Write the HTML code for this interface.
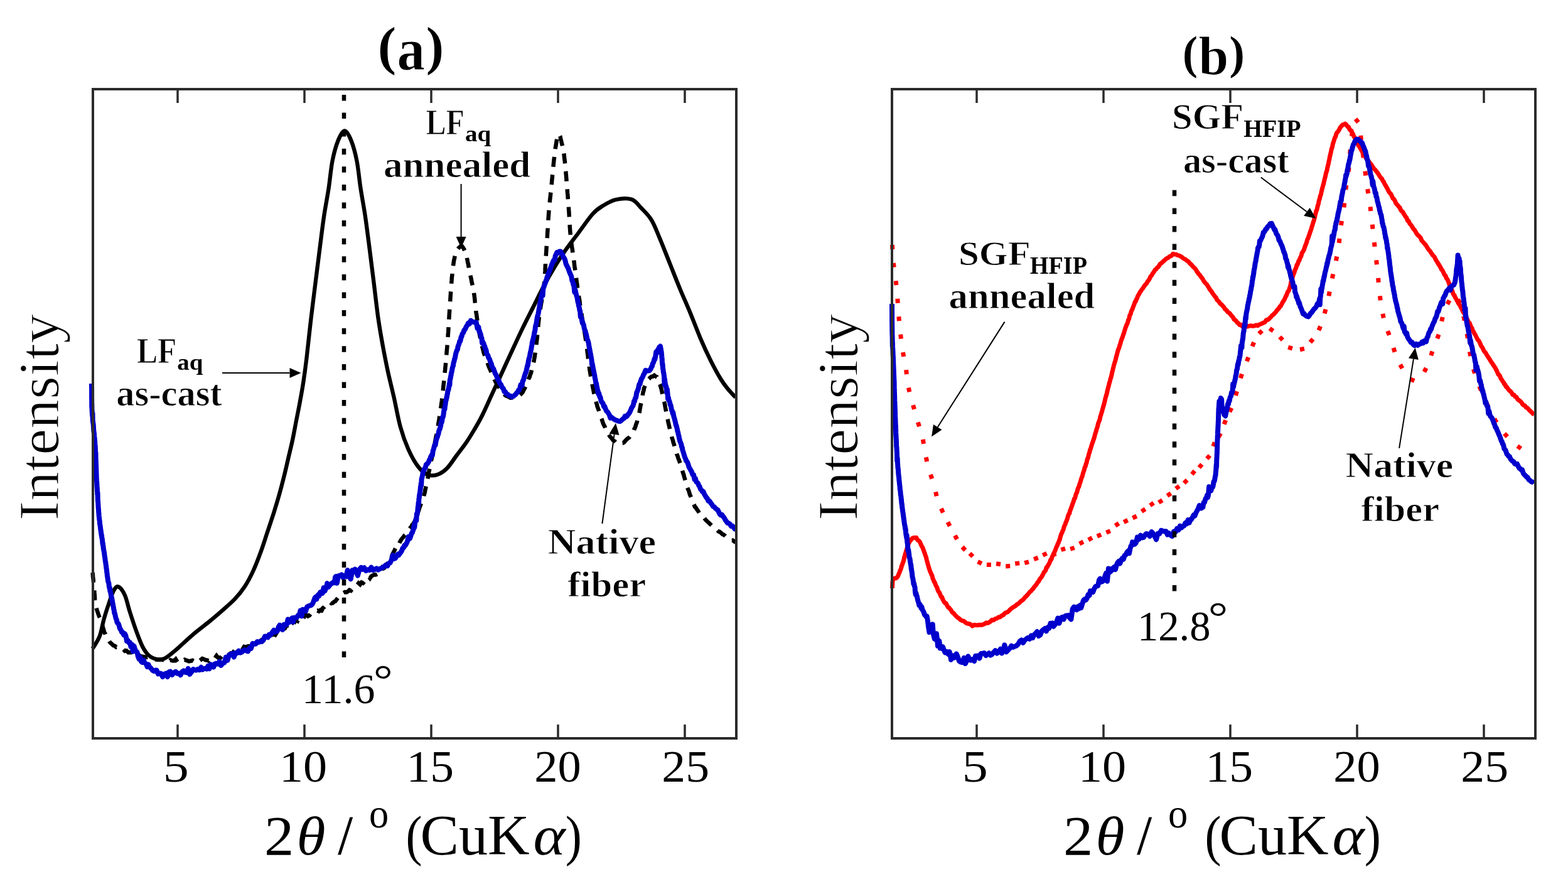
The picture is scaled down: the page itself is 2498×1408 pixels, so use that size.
<!DOCTYPE html>
<html><head><meta charset="utf-8"><title>XRD figure</title><style>
html,body{margin:0;padding:0;background:#fff;}
svg{display:block;}
.r{font-family:"Liberation Serif",serif;fill:#000;}
.b{font-family:"Liberation Serif",serif;font-weight:bold;fill:#000;}
.bt{stroke:#fff;stroke-width:0.9px;}
.thin{stroke:#fff;stroke-width:1.2px;}
.i{font-style:italic;}
</style></head>
<body><svg width="2498" height="1408" viewBox="0 0 2498 1408">
<rect x="0" y="0" width="2498" height="1408" fill="#fff"/>
<path d="M147.5 1033.0 C148.2 1031.8 150.1 1029.5 152.0 1026.0 C153.9 1022.5 156.9 1018.7 159.2 1012.0 C161.5 1005.3 163.3 994.3 165.6 986.0 C167.9 977.7 170.6 969.5 173.2 962.0 C175.8 954.5 178.4 945.6 181.0 941.0 C183.6 936.4 185.6 933.4 188.6 934.5 C191.6 935.6 195.8 941.3 198.8 947.8 C201.8 954.3 203.5 964.0 206.5 973.4 C209.5 982.8 213.3 994.6 216.7 1004.0 C220.1 1013.4 223.6 1023.0 227.0 1029.7 C230.4 1036.4 233.4 1040.6 237.2 1044.0 C241.0 1047.4 245.8 1049.2 250.0 1050.0 C254.2 1050.8 257.6 1051.0 262.7 1048.5 C267.8 1046.0 273.4 1040.9 280.6 1034.8 C287.9 1028.7 297.7 1019.0 306.2 1011.8 C314.7 1004.5 324.2 997.5 331.8 991.3 C339.4 985.0 344.9 980.4 351.9 974.3 C358.9 968.1 367.5 961.0 373.8 954.4 C380.1 947.8 384.7 942.1 389.7 934.5 C394.7 926.9 399.3 918.0 403.6 908.7 C407.9 899.4 411.9 888.8 415.5 878.9 C419.1 869.0 422.2 859.0 425.5 849.1 C428.8 839.2 432.2 829.2 435.4 819.3 C438.5 809.3 441.6 799.3 444.4 789.4 C447.2 779.5 449.8 769.5 452.3 759.6 C454.8 749.7 457.0 739.7 459.3 729.8 C461.6 719.9 464.1 710.0 466.2 700.0 C468.3 690.0 470.1 679.7 472.0 670.0 C473.9 660.3 475.6 652.3 477.5 642.0 C479.4 631.7 481.6 620.0 483.4 608.0 C485.2 596.0 486.5 586.7 488.5 570.0 C490.5 553.3 493.0 528.3 495.4 508.0 C497.8 487.7 500.3 468.3 502.8 448.4 C505.3 428.5 508.1 406.2 510.3 388.8 C512.5 371.4 514.0 358.9 516.2 344.0 C518.4 329.1 521.5 314.0 523.7 299.3 C525.9 284.6 527.1 268.6 529.6 256.0 C532.1 243.4 535.4 231.9 538.6 224.0 C541.8 216.1 545.5 208.5 549.0 208.5 C552.5 208.5 556.3 216.1 559.5 224.0 C562.7 231.9 565.9 243.4 568.4 256.0 C570.9 268.6 572.2 284.6 574.4 299.3 C576.6 314.0 579.6 329.1 581.8 344.0 C584.0 358.9 585.5 371.4 587.8 388.8 C590.0 406.2 592.8 428.5 595.3 448.4 C597.8 468.3 600.2 490.6 602.7 508.0 C605.2 525.4 607.7 538.8 610.2 552.8 C612.8 566.8 615.1 578.6 618.0 592.0 C620.9 605.4 624.4 618.7 627.7 633.4 C631.0 648.1 634.1 666.2 637.9 680.0 C641.7 693.8 646.0 705.5 650.7 716.0 C655.4 726.5 660.9 736.3 666.0 743.0 C671.1 749.7 676.3 753.8 681.4 756.0 C686.5 758.2 691.6 757.7 696.7 756.0 C701.8 754.3 706.9 751.1 712.0 746.0 C717.1 740.9 722.3 732.3 727.4 725.5 C732.5 718.7 738.0 711.8 742.7 705.0 C747.4 698.2 751.2 691.8 755.5 684.5 C759.8 677.2 763.6 670.9 768.3 661.5 C773.0 652.1 778.5 639.4 783.6 628.3 C788.7 617.2 793.9 606.2 799.0 595.1 C804.1 584.0 808.8 573.7 814.3 561.8 C819.8 549.9 826.4 535.5 832.2 523.5 C838.0 511.5 842.7 502.5 849.0 490.0 C855.3 477.5 862.3 462.5 870.1 448.5 C877.9 434.5 887.1 418.9 895.7 406.0 C904.3 393.1 913.5 381.8 921.5 371.0 C929.5 360.2 937.6 348.2 944.0 341.0 C950.4 333.8 953.8 331.8 960.0 328.0 C966.2 324.2 973.3 319.8 981.0 318.0 C988.7 316.2 999.2 315.3 1006.0 317.5 C1012.8 319.7 1016.2 325.9 1021.5 331.3 C1026.8 336.8 1032.8 342.1 1037.7 350.2 C1042.7 358.3 1046.2 368.2 1051.2 379.9 C1056.2 391.6 1062.0 406.9 1067.4 420.4 C1072.8 433.9 1078.2 447.8 1083.6 460.9 C1089.0 473.9 1094.4 485.6 1099.8 498.7 C1105.2 511.8 1110.6 526.6 1116.0 539.2 C1121.4 551.8 1126.8 563.5 1132.2 574.3 C1137.6 585.1 1143.8 596.4 1148.4 604.0 C1153.0 611.6 1156.1 615.2 1160.0 620.0 C1163.9 624.8 1170.0 630.8 1172.0 633.0" fill="none" stroke="#000" stroke-width="6.3" stroke-linejoin="round"/>
<path d="M147.5 912.0 L147.8 914.2 L148.0 917.2 L148.2 920.2 L148.5 921.8 L148.7 923.9 L148.9 926.8 L149.2 929.4 L149.4 932.1 L149.6 933.6 L149.8 935.9 L150.1 938.9 L150.3 941.7 L150.5 944.3 L150.7 946.3 L150.8 948.1 L151.0 950.9 L151.2 955.0 L151.5 956.7 L151.8 959.3 L152.2 961.9 L152.7 965.1 L153.3 967.9 L153.9 969.9 L154.8 972.8 L155.8 975.6 L156.8 978.5 L157.8 981.3 L158.9 983.6 L159.8 985.4 L160.7 989.0 L161.4 990.2 L162.2 993.5 L163.0 995.7 L163.8 999.0 L164.6 1001.3 L165.5 1004.3 L166.5 1008.1 L167.6 1009.3 L168.5 1011.7 L169.5 1012.8 L170.5 1015.2 L171.5 1017.5 L173.0 1019.7 L174.5 1022.2 L176.2 1024.1 L178.1 1025.6 L180.4 1028.0 L182.8 1028.7 L185.3 1030.9 L187.4 1030.8 L189.6 1032.1 L191.7 1032.7 L194.0 1034.9 L196.4 1033.9 L199.0 1036.9 L201.6 1036.4 L204.4 1039.2 L206.5 1039.1 L208.7 1039.2 L210.9 1038.7 L213.4 1041.6 L215.8 1042.1 L218.1 1044.4 L220.5 1042.7 L223.0 1044.8 L225.6 1045.5 L228.3 1046.0 L230.6 1046.5 L232.9 1047.0 L235.4 1046.5 L237.8 1046.4 L240.1 1047.5 L242.6 1049.2 L245.2 1050.7 L248.0 1050.3 L250.8 1050.7 L253.7 1050.6 L255.9 1050.7 L258.1 1050.2 L260.3 1051.2 L262.6 1052.6 L264.8 1050.1 L267.1 1049.7 L269.3 1053.3 L271.5 1051.2 L274.4 1052.3 L277.2 1052.4 L279.9 1049.9 L282.9 1054.7 L285.2 1053.9 L287.4 1051.9 L289.7 1052.7 L292.0 1051.9 L294.2 1050.7 L296.5 1051.7 L298.7 1052.4 L300.9 1053.3 L303.8 1052.8 L306.6 1051.9 L309.4 1053.5 L312.1 1050.7 L314.7 1052.6 L317.2 1052.9 L319.9 1051.0 L322.3 1048.9 L325.0 1049.9 L327.5 1051.2 L329.8 1051.4 L332.1 1052.5 L334.6 1048.7 L337.4 1049.5 L339.7 1049.7 L342.5 1048.0 L345.0 1044.4 L347.6 1047.7 L349.9 1049.0 L352.2 1046.6 L354.7 1043.4 L357.3 1043.2 L359.9 1043.2 L362.6 1045.2 L365.3 1041.9 L367.4 1040.5 L369.6 1041.7 L371.7 1038.8 L373.8 1040.6 L376.0 1036.5 L378.2 1036.0 L380.3 1036.7 L382.5 1036.8 L384.6 1035.0 L386.8 1033.7 L388.9 1030.1 L391.0 1030.7 L393.0 1030.0 L395.7 1029.0 L398.2 1029.4 L400.8 1027.0 L403.5 1027.3 L406.1 1025.1 L408.1 1023.6 L410.1 1023.2 L412.1 1022.6 L414.1 1022.2 L416.2 1019.5 L418.2 1018.8 L420.2 1016.3 L422.2 1019.1 L424.1 1017.9 L426.1 1014.7 L428.7 1013.0 L431.2 1010.7 L433.7 1011.2 L436.2 1009.9 L438.6 1011.2 L440.9 1007.5 L443.1 1005.0 L445.2 1001.6 L447.6 1005.4 L449.9 1002.6 L452.1 999.0 L454.2 1000.1 L456.2 996.6 L458.2 1002.1 L460.6 997.6 L463.0 995.4 L465.3 993.1 L467.5 989.2 L469.7 990.5 L471.9 987.4 L474.1 988.9 L476.3 984.1 L478.7 984.5 L480.7 986.2 L482.7 985.8 L485.4 980.9 L488.0 979.3 L490.6 981.4 L493.1 980.2 L495.6 976.8 L498.2 976.1 L500.6 974.9 L503.1 973.1 L505.6 972.5 L508.1 973.7 L510.7 971.5 L512.6 972.2 L514.5 968.3 L516.4 967.1 L518.3 964.8 L520.8 964.4 L523.2 961.3 L525.6 959.2 L527.9 961.0 L530.1 960.6 L532.5 958.2 L534.4 957.5 L536.2 954.9 L538.5 952.0 L540.6 951.4 L542.8 949.2 L544.9 946.7 L547.2 944.3 L549.6 943.0 L551.9 943.4 L554.2 942.1 L556.6 939.8 L559.1 940.8 L561.5 937.6 L564.0 936.6 L566.5 936.0 L568.9 931.8 L571.3 928.8 L573.7 930.9 L576.0 927.6 L578.4 928.8 L580.8 926.1 L583.2 925.4 L585.6 923.6 L587.5 918.7 L589.4 921.1 L591.7 917.7 L593.9 916.3 L596.2 915.3 L598.6 915.5 L600.9 914.3 L603.3 912.9 L605.6 907.8 L607.4 907.8 L609.1 904.0 L610.8 905.3 L612.5 904.4 L614.1 900.6 L615.7 899.8 L617.2 897.5 L618.7 896.0 L619.8 891.8 L620.9 889.8 L622.0 887.8 L623.1 889.1 L624.2 886.2 L625.3 882.5 L626.3 880.9 L627.4 878.8 L628.4 876.9 L629.8 873.9 L631.1 871.3 L632.4 867.9 L633.9 866.4 L635.3 867.3 L636.7 863.8 L638.1 861.3 L639.4 859.1 L641.1 857.2 L642.8 855.2 L644.4 852.8 L646.0 851.1 L647.5 849.1 L649.0 846.7 L650.4 844.8 L651.8 842.9 L653.2 841.1 L654.9 839.6 L656.6 836.1 L658.2 834.7 L659.6 832.2 L661.0 829.8 L662.2 827.5 L663.2 825.4 L664.1 822.4 L665.0 819.7 L665.8 816.8 L666.6 814.2 L667.3 812.5 L668.0 809.8 L668.9 807.1 L669.8 804.9 L670.6 802.8 L671.6 800.5 L672.5 799.1 L673.4 796.1 L674.2 793.5 L674.9 791.6 L675.7 787.8 L676.4 785.8 L676.9 783.6 L677.4 780.3 L678.0 777.9 L678.5 775.5 L679.1 773.6 L679.7 771.0 L680.2 767.1 L680.7 765.9 L681.1 763.1 L681.6 760.9 L682.0 758.6 L682.4 756.5 L682.9 753.6 L683.3 751.7 L683.8 749.3 L684.2 747.8 L684.6 746.2 L685.1 744.2 L685.5 740.8 L686.1 737.4 L686.6 735.2 L687.2 732.2 L687.8 730.6 L688.3 727.3 L688.9 724.1 L689.4 722.0 L690.0 719.1 L690.6 715.5 L691.1 713.1 L691.7 710.5 L692.3 707.9 L692.8 705.1 L693.4 702.2 L693.9 699.7 L694.4 696.6 L695.0 693.7 L695.5 692.0 L696.0 688.8 L696.5 686.0 L696.9 682.5 L697.4 680.3 L697.9 678.0 L698.3 674.5 L698.8 672.9 L699.2 669.7 L699.6 667.5 L700.0 664.7 L700.5 662.2 L700.9 660.0 L701.3 656.7 L701.7 654.8 L702.1 651.1 L702.5 648.1 L702.8 646.6 L703.1 643.6 L703.4 641.6 L703.7 639.7 L704.0 637.3 L704.3 633.6 L704.6 631.8 L704.9 630.0 L705.2 627.2 L705.5 624.1 L705.8 621.3 L706.0 618.8 L706.3 615.7 L706.6 613.3 L706.9 610.6 L707.2 607.8 L707.5 605.4 L707.8 602.0 L708.1 598.6 L708.3 597.4 L708.5 594.3 L708.7 592.4 L709.0 590.3 L709.2 588.0 L709.4 585.5 L709.6 583.6 L709.8 582.4 L710.0 579.0 L710.2 577.0 L710.5 574.6 L710.7 571.6 L711.0 568.7 L711.2 566.0 L711.5 562.0 L711.7 559.7 L711.9 557.4 L712.2 554.7 L712.4 552.8 L712.5 550.3 L712.7 547.8 L712.9 545.7 L713.0 543.4 L713.2 541.3 L713.3 539.3 L713.5 536.7 L713.7 534.3 L713.8 532.1 L714.0 530.0 L714.2 527.1 L714.4 524.1 L714.5 521.2 L714.7 518.3 L714.9 515.2 L715.1 512.6 L715.2 509.2 L715.4 506.8 L715.6 503.8 L715.7 501.7 L715.9 498.6 L716.1 496.1 L716.2 493.8 L716.4 491.6 L716.6 488.3 L716.8 485.6 L716.9 483.8 L717.1 480.6 L717.3 478.8 L717.4 476.0 L717.6 473.8 L717.7 470.8 L717.9 469.5 L718.0 466.8 L718.2 464.4 L718.4 462.7 L718.6 459.3 L718.8 457.6 L719.0 453.6 L719.2 450.6 L719.4 448.2 L719.6 446.2 L719.8 443.1 L720.0 440.9 L720.3 438.5 L720.5 435.6 L720.8 433.3 L721.1 430.4 L721.4 427.6 L721.7 426.0 L722.0 423.5 L722.3 421.0 L722.8 417.8 L723.2 414.6 L723.7 413.0 L724.2 410.4 L724.8 407.5 L725.4 406.0 L726.4 402.4 L727.5 400.3 L728.7 398.0 L730.0 396.0 L731.7 393.8 L733.8 392.4 L736.2 392.3 L737.7 394.3 L739.2 396.7 L740.2 399.2 L741.3 402.1 L742.3 405.2 L742.9 407.8 L743.5 408.5 L744.1 412.2 L744.7 414.8 L745.2 417.9 L745.6 419.6 L746.0 420.8 L746.4 423.9 L746.9 425.9 L747.3 428.8 L747.7 430.2 L748.1 432.8 L748.7 435.6 L749.3 438.4 L749.9 441.0 L750.5 443.2 L751.1 446.9 L751.7 449.9 L752.3 452.2 L752.9 454.6 L753.5 457.9 L754.0 460.8 L754.5 463.4 L754.9 465.7 L755.3 468.9 L755.6 470.5 L755.9 473.2 L756.2 475.2 L756.5 478.2 L756.7 480.8 L757.0 483.4 L757.2 486.2 L757.5 490.0 L757.8 491.5 L758.1 493.8 L758.4 497.1 L758.7 498.7 L759.1 500.4 L759.4 503.6 L759.8 505.6 L760.2 509.2 L760.6 510.7 L761.0 513.7 L761.4 516.1 L761.9 519.7 L762.2 521.4 L762.6 524.0 L762.9 526.1 L763.3 528.2 L763.7 531.1 L764.1 533.3 L764.5 535.1 L764.9 536.9 L765.3 539.0 L765.9 542.4 L766.4 546.1 L767.0 547.6 L767.7 550.1 L768.3 552.7 L768.9 554.8 L769.5 557.1 L770.2 559.6 L770.8 562.4 L771.5 564.0 L772.2 566.0 L773.0 567.7 L773.7 570.5 L774.4 572.5 L775.4 574.7 L776.5 577.5 L777.5 580.5 L778.5 583.5 L779.6 585.9 L780.6 588.2 L781.6 590.4 L782.6 593.0 L783.6 595.1 L784.6 598.3 L785.6 599.2 L786.7 601.8 L787.7 604.6 L788.7 606.1 L789.8 608.8 L790.8 610.2 L792.2 612.8 L793.5 615.0 L794.9 616.8 L796.3 619.1 L797.6 622.3 L799.0 623.5 L800.8 625.5 L802.5 627.5 L804.3 628.9 L806.1 630.4 L808.4 631.3 L810.8 632.4 L813.1 633.6 L815.6 633.4 L818.4 633.1 L821.1 633.3 L823.9 632.3 L825.9 631.7 L827.8 629.8 L829.7 627.9 L831.1 626.4 L832.5 625.1 L833.9 622.1 L835.3 619.6 L836.3 617.5 L837.2 615.5 L838.2 613.6 L839.1 611.6 L840.0 608.2 L840.9 607.3 L841.7 604.7 L842.8 601.9 L843.8 600.4 L844.7 596.7 L845.6 595.0 L846.4 592.1 L847.2 588.7 L847.9 586.6 L848.6 584.0 L849.3 580.9 L849.8 577.8 L850.4 575.8 L850.9 573.3 L851.3 570.4 L851.8 568.9 L852.2 565.4 L852.6 562.6 L853.0 559.8 L853.4 556.8 L853.8 553.9 L854.1 552.1 L854.3 549.9 L854.6 547.3 L854.9 545.2 L855.2 542.0 L855.5 540.2 L855.8 537.1 L856.0 534.9 L856.2 531.8 L856.5 529.2 L856.7 526.8 L856.9 523.5 L857.2 522.1 L857.5 518.2 L857.7 516.0 L857.9 513.5 L858.1 512.1 L858.4 509.7 L858.7 506.8 L859.0 503.9 L859.3 501.8 L859.7 499.6 L860.1 496.4 L860.5 493.4 L861.0 490.5 L861.4 487.8 L861.8 485.9 L862.1 483.4 L862.5 481.5 L862.9 480.3 L863.2 477.7 L863.6 474.3 L863.9 472.7 L864.3 470.4 L864.6 468.1 L865.1 465.7 L865.5 462.3 L865.9 459.6 L866.3 456.9 L866.6 454.4 L866.9 452.3 L867.1 449.7 L867.4 446.5 L867.6 444.6 L867.8 442.2 L868.0 440.0 L868.2 437.0 L868.3 434.5 L868.5 431.4 L868.6 428.0 L868.7 426.3 L868.8 423.5 L869.0 420.9 L869.1 417.5 L869.3 415.3 L869.4 412.2 L869.6 409.4 L869.8 407.0 L870.0 404.2 L870.2 400.9 L870.4 397.7 L870.6 394.6 L870.7 392.6 L870.9 390.4 L871.1 387.1 L871.3 383.5 L871.5 381.2 L871.7 378.9 L871.9 376.6 L872.0 373.6 L872.2 370.4 L872.4 367.5 L872.6 364.2 L872.7 361.7 L872.9 358.9 L873.1 355.9 L873.3 353.4 L873.4 350.4 L873.6 347.9 L873.8 345.5 L874.0 342.4 L874.2 339.5 L874.4 336.4 L874.7 333.1 L874.9 330.8 L875.2 328.2 L875.5 324.7 L875.7 323.4 L875.9 320.5 L876.1 318.6 L876.4 316.2 L876.7 312.9 L877.0 311.3 L877.3 307.2 L877.6 305.2 L877.9 301.9 L878.1 299.6 L878.4 296.6 L878.7 294.0 L878.9 292.2 L879.1 290.4 L879.3 287.0 L879.6 284.5 L879.9 282.2 L880.1 278.8 L880.4 276.7 L880.6 273.5 L880.9 271.4 L881.1 268.6 L881.4 266.2 L881.7 263.0 L882.0 259.5 L882.3 257.4 L882.5 254.5 L882.8 253.0 L883.1 250.4 L883.4 247.2 L883.7 243.9 L884.1 241.9 L884.4 238.8 L884.8 235.7 L885.3 233.2 L885.7 231.2 L886.2 227.7 L886.6 225.2 L887.1 222.3 L887.6 219.3 L888.1 217.6 L888.8 215.6 L890.0 213.6 L891.6 215.4 L892.5 217.3 L893.2 221.2 L894.0 223.7 L894.6 226.7 L895.3 229.4 L895.8 231.1 L896.5 233.8 L897.0 236.8 L897.5 240.0 L897.9 241.2 L898.3 244.6 L898.6 246.6 L898.9 249.4 L899.2 252.5 L899.5 254.4 L899.8 256.8 L900.1 260.2 L900.3 262.3 L900.6 264.0 L900.8 267.3 L901.0 268.9 L901.2 271.6 L901.4 273.0 L901.6 276.9 L901.9 278.6 L902.1 282.3 L902.3 283.8 L902.5 287.8 L902.7 289.9 L902.9 292.3 L903.1 295.1 L903.3 297.7 L903.5 299.6 L903.7 302.3 L903.9 305.1 L904.1 307.6 L904.3 309.1 L904.6 313.0 L904.8 316.1 L905.0 318.9 L905.2 322.1 L905.4 323.7 L905.6 327.2 L905.8 328.7 L905.9 330.8 L906.1 333.3 L906.3 336.1 L906.5 338.4 L906.6 340.9 L906.8 344.3 L907.0 346.9 L907.1 348.8 L907.3 351.9 L907.4 355.4 L907.6 358.1 L907.8 361.1 L908.0 364.1 L908.2 366.8 L908.4 370.2 L908.7 372.2 L908.9 375.0 L909.2 378.2 L909.6 381.1 L909.9 384.0 L910.3 387.1 L910.6 389.1 L911.0 392.6 L911.4 395.1 L911.8 397.3 L912.2 400.5 L912.6 404.2 L913.0 406.5 L913.4 408.8 L913.8 410.8 L914.2 414.3 L914.6 417.1 L914.9 420.1 L915.3 423.7 L915.6 425.7 L916.0 428.2 L916.3 430.4 L916.7 433.0 L917.0 436.1 L917.4 438.8 L917.8 443.0 L918.1 443.9 L918.4 446.0 L918.7 449.0 L919.1 451.0 L919.4 452.7 L919.8 456.3 L920.1 458.2 L920.5 460.6 L920.9 464.0 L921.4 466.9 L921.8 469.5 L922.1 472.1 L922.5 474.4 L922.8 475.9 L923.1 477.7 L923.5 479.8 L923.8 482.9 L924.1 485.6 L924.5 487.8 L924.8 490.1 L925.2 493.2 L925.7 495.2 L926.1 498.4 L926.5 500.0 L926.9 503.5 L927.3 506.1 L927.7 508.2 L928.1 510.3 L928.4 512.3 L928.9 515.6 L929.4 518.8 L929.8 520.8 L930.3 523.8 L930.7 525.9 L931.2 528.9 L931.6 531.0 L932.1 534.2 L932.5 536.6 L932.9 539.6 L933.4 542.1 L933.7 544.0 L934.1 547.0 L934.4 550.2 L934.8 553.2 L935.1 555.2 L935.5 558.5 L935.8 561.3 L936.2 564.0 L936.5 566.0 L936.8 569.7 L937.2 572.0 L937.5 575.7 L937.9 578.4 L938.3 581.2 L938.7 582.8 L939.1 586.8 L939.5 589.6 L939.9 591.6 L940.3 594.7 L940.7 596.6 L941.0 598.7 L941.4 600.7 L941.8 602.8 L942.2 605.2 L942.6 608.9 L943.0 609.9 L943.4 612.1 L943.9 613.9 L944.4 616.8 L945.0 619.6 L945.5 622.2 L946.1 625.5 L946.6 627.6 L947.1 630.5 L947.7 632.0 L948.2 635.1 L948.8 637.3 L949.5 639.9 L950.1 641.8 L950.9 644.3 L951.7 647.8 L952.5 649.6 L953.3 652.2 L954.1 654.3 L954.9 657.1 L955.7 659.4 L956.5 661.8 L957.2 664.0 L958.1 666.3 L959.1 668.7 L960.0 672.0 L961.0 674.7 L962.1 677.1 L963.2 678.8 L964.1 681.5 L965.1 683.5 L966.1 685.4 L967.1 687.5 L968.5 689.7 L970.0 692.4 L971.5 695.0 L973.0 696.5 L974.4 697.9 L976.0 700.2 L977.7 702.1 L979.4 702.9 L981.1 704.8 L983.4 706.8 L985.6 707.3 L988.1 707.3 L990.6 705.8 L992.4 705.6 L994.3 704.5 L996.1 702.2 L997.9 700.4 L1000.0 698.3 L1001.9 697.3 L1003.7 695.1 L1005.5 692.6 L1007.2 690.9 L1008.4 688.7 L1009.5 686.6 L1010.5 683.4 L1011.5 681.6 L1012.4 679.2 L1013.4 675.7 L1014.0 674.4 L1014.7 672.5 L1015.3 670.1 L1015.9 667.2 L1016.5 665.1 L1017.2 663.0 L1017.9 660.3 L1018.5 657.6 L1019.0 654.8 L1019.5 651.5 L1020.1 648.5 L1020.6 645.1 L1021.1 643.4 L1021.6 641.3 L1022.2 637.5 L1022.6 635.2 L1023.0 633.4 L1023.5 631.0 L1023.9 628.1 L1024.3 626.1 L1024.8 623.8 L1025.4 622.3 L1026.0 618.5 L1026.7 616.8 L1027.7 614.4 L1028.7 612.1 L1029.8 609.9 L1031.3 607.5 L1032.9 604.3 L1034.4 602.9 L1036.0 601.1 L1038.0 599.7 L1039.9 599.8 L1042.4 597.8 L1044.8 599.7 L1046.6 600.5 L1047.9 603.4 L1049.2 606.0 L1050.1 607.5 L1050.9 610.9 L1051.6 612.4 L1052.3 615.3 L1053.0 617.5 L1053.7 619.9 L1054.2 622.2 L1054.7 624.5 L1055.2 627.1 L1055.7 629.2 L1056.3 632.4 L1056.8 633.7 L1057.3 635.9 L1057.8 638.1 L1058.4 640.6 L1058.9 643.0 L1059.4 645.9 L1060.0 649.3 L1060.5 651.8 L1061.0 654.5 L1061.6 657.6 L1062.1 660.7 L1062.7 663.4 L1063.2 666.4 L1063.8 668.7 L1064.4 671.7 L1065.0 674.3 L1065.7 677.3 L1066.3 679.8 L1067.0 682.8 L1067.7 685.7 L1068.4 688.5 L1069.1 691.3 L1069.9 694.0 L1070.6 697.5 L1071.4 699.7 L1072.1 702.2 L1072.9 705.4 L1073.7 707.5 L1074.4 710.1 L1075.2 713.2 L1075.9 715.1 L1076.6 716.6 L1077.3 720.2 L1078.1 723.2 L1079.0 724.8 L1079.9 727.7 L1080.8 730.9 L1081.7 732.4 L1082.6 735.4 L1083.5 737.9 L1084.3 740.9 L1085.2 742.8 L1086.1 746.7 L1086.9 748.9 L1087.7 751.8 L1088.5 754.3 L1089.3 756.3 L1090.1 759.9 L1090.9 762.2 L1091.8 765.5 L1092.6 767.9 L1093.4 770.8 L1094.3 773.6 L1095.2 776.7 L1096.1 779.3 L1097.1 781.3 L1098.1 784.5 L1098.8 787.2 L1099.6 788.9 L1100.3 790.4 L1101.4 793.4 L1102.4 796.0 L1103.5 799.2 L1104.6 801.4 L1105.8 804.0 L1107.0 807.2 L1108.3 808.0 L1109.7 810.6 L1111.0 812.2 L1112.3 814.1 L1114.1 817.3 L1115.9 819.3 L1117.8 821.9 L1119.8 822.4 L1121.8 824.8 L1123.8 827.7 L1125.8 829.5 L1127.8 831.5 L1129.8 833.4 L1131.9 835.1 L1134.0 837.0 L1136.1 838.9 L1138.2 841.1 L1140.4 842.5 L1142.7 844.5 L1145.0 846.8 L1146.7 847.1 L1149.0 848.9 L1150.8 850.8 L1152.8 851.7 L1154.8 853.1 L1156.8 855.3 L1158.9 856.0 L1160.9 857.0 L1162.9 858.8 L1164.8 860.6 L1167.2 860.6 L1169.3 862.0 L1171.4 863.6 L1172.0 864.0" fill="none" stroke="#000" stroke-width="6.5" stroke-dasharray="16 12.5"/>
<path d="M146.0 611.0 L146.0 612.0 L146.0 616.2 L146.1 619.3 L146.1 620.9 L146.1 623.1 L146.1 625.2 L146.1 629.4 L146.1 631.9 L146.1 635.1 L146.2 636.5 L146.2 637.8 L146.2 648.0 L146.3 642.8 L146.4 645.6 L146.4 648.9 L146.5 651.2 L146.6 652.5 L146.7 654.8 L146.9 658.9 L147.1 662.3 L147.3 662.4 L147.5 658.6 L147.7 670.2 L148.0 671.2 L148.3 673.6 L148.6 675.5 L148.9 678.9 L149.1 683.4 L149.4 687.1 L149.7 688.4 L150.0 691.1 L150.3 694.8 L150.6 697.7 L150.9 700.4 L151.1 702.6 L151.2 704.2 L151.4 707.3 L151.6 709.5 L151.7 709.3 L151.9 714.8 L152.0 718.3 L152.2 721.9 L152.3 728.1 L152.4 723.3 L152.5 721.5 L152.6 731.3 L152.8 733.8 L152.9 736.9 L153.0 740.5 L153.1 741.4 L153.2 744.2 L153.3 748.6 L153.4 751.7 L153.5 753.7 L153.6 756.5 L153.7 762.1 L153.9 762.4 L154.0 764.7 L154.2 767.5 L154.3 769.6 L154.5 773.3 L154.6 776.5 L154.8 777.1 L154.9 780.1 L155.0 782.9 L155.2 784.0 L155.3 787.6 L155.4 788.2 L155.6 785.3 L155.7 792.6 L155.9 798.6 L156.1 798.4 L156.3 802.2 L156.5 805.7 L156.7 809.5 L156.9 810.2 L157.1 814.4 L157.3 817.0 L157.5 818.7 L157.7 822.1 L158.0 824.0 L158.2 826.6 L158.5 828.8 L158.7 829.6 L159.0 834.5 L159.3 835.7 L159.7 837.9 L160.0 840.4 L160.4 844.0 L160.8 846.5 L161.2 849.4 L161.6 852.7 L162.0 852.7 L162.3 856.8 L162.7 857.8 L163.1 860.9 L163.4 865.5 L163.8 865.1 L164.1 868.9 L164.5 870.1 L164.8 874.6 L165.2 875.3 L165.5 877.6 L166.0 879.7 L166.4 883.2 L166.8 886.6 L167.2 888.8 L167.6 891.7 L168.0 895.1 L168.3 895.6 L168.6 899.1 L169.0 900.7 L169.3 904.7 L169.6 905.4 L169.9 908.6 L170.2 911.2 L170.6 913.7 L170.9 917.4 L171.3 919.2 L171.7 922.3 L172.2 926.0 L172.7 927.5 L173.3 928.6 L173.8 933.7 L174.4 936.6 L174.9 936.0 L175.3 941.6 L175.8 941.9 L176.2 943.7 L176.8 947.4 L177.4 950.5 L177.9 951.4 L178.4 954.2 L179.0 957.9 L179.4 960.7 L179.7 961.3 L180.1 964.0 L180.7 966.8 L181.2 970.2 L181.8 972.3 L182.3 976.8 L183.0 977.3 L183.6 980.1 L184.3 983.6 L184.9 985.7 L185.7 987.1 L186.4 990.8 L187.4 992.6 L188.5 993.1 L189.6 995.9 L190.7 1000.4 L191.9 1002.5 L193.1 1004.3 L194.1 1007.1 L195.6 1007.3 L197.2 1011.3 L198.7 1009.2 L200.4 1012.5 L202.0 1021.0 L203.6 1020.0 L205.2 1023.5 L206.8 1023.3 L208.5 1030.0 L210.2 1026.4 L211.8 1037.7 L213.5 1028.9 L215.2 1034.8 L216.9 1037.1 L218.5 1038.9 L219.9 1045.7 L221.6 1049.8 L223.3 1046.8 L225.0 1053.7 L226.8 1055.1 L228.6 1051.3 L230.6 1055.6 L232.8 1057.6 L234.6 1062.1 L236.4 1058.3 L238.2 1062.4 L240.7 1064.6 L243.1 1067.7 L245.3 1068.9 L247.7 1067.6 L249.5 1067.4 L251.8 1073.4 L254.0 1072.4 L256.5 1072.8 L259.1 1078.0 L261.8 1073.7 L264.7 1072.5 L266.9 1078.0 L269.2 1070.3 L271.4 1069.5 L274.2 1074.9 L277.0 1071.4 L279.8 1069.8 L282.6 1072.8 L285.4 1072.4 L287.6 1075.2 L290.3 1069.9 L292.6 1068.4 L295.0 1070.9 L297.5 1071.2 L299.7 1064.9 L302.2 1073.9 L305.1 1070.3 L307.8 1065.9 L310.0 1066.9 L312.4 1067.5 L315.0 1065.9 L317.7 1067.2 L320.5 1062.8 L322.6 1066.6 L324.8 1065.0 L327.0 1064.8 L329.2 1065.6 L331.5 1060.7 L333.7 1065.1 L335.9 1058.4 L338.1 1059.8 L340.3 1062.5 L342.4 1057.3 L344.5 1056.7 L347.1 1057.6 L349.6 1053.6 L352.2 1059.9 L354.7 1056.4 L357.3 1055.6 L359.9 1046.8 L362.4 1051.7 L365.0 1043.3 L367.5 1042.1 L370.1 1041.0 L372.7 1046.5 L375.2 1039.8 L377.8 1040.3 L380.3 1036.6 L382.9 1039.7 L385.3 1038.6 L387.8 1036.1 L390.2 1035.0 L392.7 1036.6 L395.1 1037.4 L397.5 1032.1 L400.0 1032.8 L402.4 1025.0 L404.8 1025.5 L407.3 1025.7 L409.7 1022.1 L412.2 1022.9 L414.6 1021.6 L417.0 1022.1 L419.5 1019.7 L421.9 1013.6 L424.3 1013.7 L426.8 1015.2 L428.6 1011.0 L430.5 1011.8 L432.4 1009.4 L434.3 1006.3 L436.2 1003.8 L438.1 1006.9 L440.0 1004.5 L441.9 1005.1 L443.7 998.7 L445.6 995.7 L448.0 1001.6 L450.3 1003.0 L452.5 994.9 L454.7 995.3 L456.7 995.1 L458.7 986.5 L461.1 990.9 L463.3 987.2 L465.3 984.5 L467.1 990.6 L468.9 983.8 L471.0 983.9 L473.0 983.4 L474.9 980.0 L476.7 980.2 L478.6 972.5 L480.7 981.3 L482.5 970.7 L484.8 972.6 L487.0 973.3 L489.1 966.6 L491.3 965.4 L493.5 964.6 L495.3 964.1 L496.9 963.0 L498.6 960.4 L500.3 956.0 L501.7 952.1 L503.0 950.8 L504.3 954.5 L505.6 949.2 L507.0 947.2 L508.3 949.2 L510.1 943.6 L511.9 942.6 L513.8 944.7 L515.6 936.3 L517.5 941.3 L519.4 936.5 L521.3 929.2 L523.2 934.9 L525.6 931.6 L527.8 929.7 L529.8 928.0 L531.8 928.4 L533.1 926.4 L534.1 919.3 L535.0 918.3 L536.8 928.8 L539.1 917.2 L541.5 916.9 L544.3 915.4 L546.6 919.8 L548.9 917.2 L551.3 918.4 L553.7 908.2 L556.0 917.7 L558.7 922.2 L561.5 908.4 L563.5 910.7 L565.6 906.6 L567.7 910.8 L569.8 916.8 L572.6 907.1 L575.3 903.9 L578.0 906.8 L580.2 904.3 L583.1 909.1 L585.9 907.2 L588.7 908.2 L591.5 903.6 L594.3 908.2 L597.0 907.0 L599.8 905.3 L602.6 907.6 L604.7 906.1 L607.4 905.2 L610.0 903.6 L612.4 902.1 L614.9 899.8 L617.3 901.3 L619.4 897.2 L621.5 896.4 L623.6 892.1 L625.7 884.3 L627.7 890.0 L629.8 889.2 L631.8 885.8 L633.9 882.6 L635.4 884.0 L637.0 881.6 L638.5 879.7 L640.0 877.3 L641.6 873.0 L643.2 872.2 L644.4 868.6 L645.6 868.9 L646.8 867.0 L647.9 864.9 L649.3 861.4 L650.7 855.1 L652.1 858.3 L653.2 857.3 L654.6 852.8 L655.8 849.3 L656.9 848.3 L658.0 844.7 L658.7 843.3 L659.6 836.8 L660.4 839.8 L661.1 832.6 L661.8 830.4 L662.4 827.7 L662.9 826.0 L663.4 829.2 L663.8 818.8 L664.3 819.6 L664.7 819.4 L665.0 816.6 L665.4 813.4 L665.7 809.0 L666.1 806.0 L666.4 805.2 L666.6 800.8 L666.9 802.6 L667.2 799.8 L667.4 794.4 L667.7 793.6 L668.0 790.5 L668.4 787.1 L668.8 786.0 L669.2 782.7 L669.5 780.4 L669.7 779.1 L670.0 775.1 L670.3 774.6 L670.5 773.6 L670.8 770.1 L671.2 772.8 L671.6 763.2 L672.1 761.4 L672.6 759.5 L673.2 756.6 L673.8 751.9 L674.5 750.6 L675.3 749.6 L676.5 746.2 L677.7 744.5 L679.0 739.9 L680.4 739.2 L681.8 737.3 L683.2 735.0 L684.2 732.0 L685.2 731.3 L686.2 727.3 L687.1 726.1 L688.0 724.2 L688.9 725.2 L689.8 717.9 L690.7 715.6 L691.6 712.3 L692.3 709.1 L693.0 708.3 L693.6 708.9 L694.3 704.4 L695.1 700.5 L696.0 698.0 L696.8 696.0 L697.6 692.7 L698.4 691.3 L699.2 686.7 L700.0 684.2 L700.8 683.2 L701.5 680.5 L702.2 677.5 L703.0 672.4 L703.7 672.7 L704.4 668.8 L705.0 664.4 L705.7 664.4 L706.3 661.8 L706.9 657.1 L707.5 652.2 L708.0 652.6 L708.5 651.5 L709.0 646.7 L709.5 644.2 L710.0 639.5 L710.6 637.7 L711.1 635.5 L711.5 632.6 L711.9 632.9 L712.4 628.3 L712.8 627.9 L713.3 623.5 L713.8 621.5 L714.3 621.2 L714.9 617.8 L715.4 615.4 L716.0 610.8 L716.4 613.2 L716.8 605.1 L717.2 604.2 L717.7 602.3 L718.1 599.0 L718.5 598.3 L719.1 593.3 L719.7 592.5 L720.3 588.4 L720.8 585.9 L721.4 583.7 L722.0 582.6 L722.5 578.3 L723.1 576.3 L723.6 574.8 L724.1 571.8 L724.6 571.3 L725.3 567.7 L726.0 563.9 L726.7 561.5 L727.5 558.9 L728.2 557.3 L728.9 556.5 L729.7 551.5 L730.5 549.7 L731.4 547.5 L732.2 543.8 L733.0 543.8 L733.8 541.3 L734.6 536.6 L735.5 536.2 L736.3 532.5 L737.2 530.8 L738.3 529.7 L739.4 525.8 L740.5 525.1 L741.6 523.1 L742.9 520.0 L744.5 518.1 L746.0 514.6 L748.0 515.5 L749.9 510.6 L752.5 512.8 L754.8 512.8 L757.1 513.7 L758.8 513.6 L760.5 522.7 L761.6 520.1 L762.4 521.2 L763.3 527.5 L764.1 527.5 L764.8 531.2 L765.4 531.3 L766.0 533.7 L766.7 537.7 L767.4 538.5 L768.1 546.1 L768.8 543.6 L769.5 546.0 L770.4 546.8 L771.4 550.8 L772.3 551.8 L773.3 555.9 L774.3 557.0 L775.3 562.8 L776.3 564.9 L777.4 566.2 L778.4 570.0 L779.5 571.3 L780.6 574.1 L781.7 577.3 L782.7 579.2 L783.8 584.2 L784.6 585.0 L785.5 586.8 L786.3 587.6 L787.1 590.2 L788.0 592.2 L788.8 595.0 L790.0 596.4 L791.1 599.0 L792.2 602.2 L793.4 604.9 L794.5 605.4 L795.7 609.5 L796.9 611.4 L798.1 612.6 L799.3 615.7 L800.5 617.7 L801.7 618.5 L803.3 623.4 L804.8 623.6 L806.4 627.3 L808.2 627.6 L810.5 630.0 L812.6 630.4 L815.4 632.1 L818.1 631.1 L820.3 629.1 L821.8 627.9 L823.4 625.4 L824.9 624.3 L826.1 621.3 L827.3 621.3 L828.4 617.9 L829.5 613.0 L830.6 613.1 L831.6 614.4 L832.6 607.2 L833.5 606.3 L834.4 603.5 L835.3 600.0 L836.2 597.3 L837.0 594.4 L837.7 593.1 L838.3 592.0 L838.9 588.3 L839.6 585.4 L840.2 582.6 L840.8 582.1 L841.3 578.6 L841.9 575.2 L842.5 572.0 L843.1 570.2 L843.7 568.0 L844.3 565.4 L844.7 562.3 L845.1 560.9 L845.6 559.2 L846.0 556.8 L846.4 555.6 L846.8 552.2 L847.4 549.5 L848.0 544.6 L848.5 543.8 L849.1 540.6 L849.7 538.6 L850.2 536.0 L850.8 533.9 L851.4 529.3 L851.9 528.5 L852.5 525.0 L853.0 520.2 L853.6 517.8 L854.1 517.7 L854.7 513.3 L855.2 509.7 L855.7 506.4 L856.3 503.8 L856.8 502.5 L857.4 500.1 L857.9 497.6 L858.3 495.1 L858.8 491.8 L859.3 489.6 L859.8 485.0 L860.3 483.6 L860.8 479.7 L861.4 478.6 L862.0 474.1 L862.6 472.5 L863.2 468.4 L863.9 466.7 L864.6 470.7 L865.4 459.5 L866.2 457.7 L867.1 455.3 L867.7 452.9 L868.4 451.9 L869.1 449.6 L869.8 446.8 L870.5 446.7 L871.4 441.6 L872.4 440.6 L873.3 435.6 L874.3 435.2 L875.2 431.1 L876.2 429.8 L877.1 426.6 L877.9 424.8 L878.9 421.9 L879.9 419.9 L880.8 417.4 L881.8 415.3 L882.7 413.7 L883.7 414.6 L884.7 407.8 L885.9 405.4 L887.2 402.1 L888.8 403.0 L891.1 400.4 L893.3 400.4 L894.8 404.4 L896.2 405.2 L897.3 409.9 L898.4 410.5 L899.5 412.2 L900.5 415.2 L901.6 420.1 L902.7 422.6 L903.6 424.1 L904.5 426.3 L905.4 427.6 L906.4 431.0 L907.3 433.5 L908.2 435.5 L909.1 437.6 L910.0 439.3 L910.7 442.8 L911.4 447.0 L912.0 447.7 L912.7 449.8 L913.3 453.0 L914.0 452.4 L914.6 457.6 L915.3 465.0 L915.9 460.6 L916.6 462.6 L917.3 465.9 L918.0 469.3 L918.6 471.6 L919.2 472.7 L919.9 476.3 L920.5 480.3 L921.0 482.4 L921.5 483.3 L921.9 487.4 L922.4 487.8 L923.0 491.1 L923.6 494.8 L924.2 495.2 L924.8 504.7 L925.4 505.7 L926.0 505.5 L926.6 506.7 L927.2 511.1 L927.8 514.1 L928.3 513.4 L929.1 516.3 L929.9 517.9 L930.7 522.6 L931.4 525.1 L932.2 526.5 L933.0 529.5 L933.7 532.0 L934.5 535.3 L935.2 538.8 L935.9 541.1 L936.5 542.3 L937.0 544.2 L937.6 546.1 L938.1 549.3 L938.7 553.2 L939.2 555.5 L939.8 558.3 L940.2 561.4 L940.6 562.9 L941.0 564.5 L941.4 567.1 L941.8 568.8 L942.2 571.5 L942.6 574.2 L943.0 580.5 L943.5 578.7 L944.0 581.5 L944.5 584.7 L945.0 587.0 L945.5 589.4 L946.0 591.6 L946.5 594.8 L947.0 596.8 L947.4 598.4 L947.9 602.8 L948.3 603.5 L948.9 607.3 L949.4 610.7 L950.0 610.5 L950.6 615.1 L951.1 616.6 L951.8 620.6 L952.5 622.3 L953.2 627.1 L953.9 625.9 L954.6 627.9 L955.4 632.3 L956.4 632.6 L957.5 638.0 L958.6 640.7 L959.7 641.0 L960.8 643.1 L962.0 647.3 L963.2 647.0 L964.3 650.2 L965.6 653.5 L966.8 655.3 L968.1 656.4 L969.4 658.5 L970.7 660.6 L972.4 665.8 L974.1 664.7 L975.6 665.9 L977.5 667.1 L979.5 668.5 L982.1 669.6 L984.7 670.6 L987.3 671.2 L989.6 669.9 L992.0 667.4 L993.8 666.6 L995.6 663.0 L997.4 664.0 L999.0 662.7 L1000.6 659.8 L1002.0 658.9 L1003.5 656.2 L1004.9 652.9 L1006.2 649.7 L1007.2 648.1 L1008.2 646.8 L1009.2 643.8 L1010.1 639.1 L1011.0 639.1 L1011.8 635.0 L1012.4 633.9 L1013.1 633.0 L1013.7 629.5 L1014.3 625.1 L1014.9 624.5 L1015.5 622.9 L1016.3 620.7 L1017.2 617.8 L1018.0 613.4 L1018.8 611.4 L1019.6 611.6 L1020.4 607.9 L1021.2 605.6 L1022.1 603.0 L1023.1 601.9 L1024.3 599.3 L1025.4 596.5 L1026.6 594.9 L1028.4 589.8 L1030.4 590.8 L1032.6 590.6 L1034.8 590.1 L1036.5 587.9 L1038.0 584.2 L1039.0 583.3 L1039.8 579.4 L1040.7 577.9 L1041.6 575.7 L1042.5 571.8 L1043.4 571.9 L1044.3 567.2 L1045.2 560.9 L1046.1 562.7 L1047.0 559.7 L1047.9 557.0 L1048.9 557.0 L1050.1 553.1 L1052.0 551.6 L1052.8 555.8 L1053.3 558.7 L1053.7 560.8 L1053.9 564.2 L1054.2 566.2 L1054.4 569.1 L1054.7 570.9 L1054.9 575.3 L1055.1 577.4 L1055.3 580.7 L1055.6 580.1 L1055.8 583.1 L1056.1 587.8 L1056.4 587.9 L1056.8 592.2 L1057.3 594.3 L1057.7 596.4 L1058.1 599.9 L1058.5 612.4 L1059.0 604.1 L1059.4 607.7 L1059.9 611.3 L1060.4 615.4 L1060.9 614.5 L1061.4 616.6 L1061.8 618.4 L1062.3 625.4 L1062.9 620.2 L1063.5 626.1 L1064.1 635.3 L1064.8 633.0 L1065.5 637.1 L1066.2 638.5 L1066.9 640.5 L1067.7 644.4 L1068.5 645.4 L1069.3 649.3 L1070.1 653.5 L1070.9 654.6 L1071.7 658.5 L1072.3 656.8 L1073.0 661.3 L1073.8 664.9 L1074.5 666.6 L1075.3 670.2 L1076.1 673.0 L1076.8 677.2 L1077.5 677.7 L1078.2 680.8 L1078.8 682.9 L1079.3 686.4 L1079.8 687.4 L1080.4 690.1 L1080.9 692.4 L1081.5 694.4 L1082.0 698.0 L1082.6 699.7 L1083.1 702.6 L1083.8 703.8 L1084.5 705.7 L1085.3 707.4 L1086.0 712.0 L1086.7 712.3 L1087.4 716.7 L1088.1 718.7 L1089.0 721.7 L1089.9 724.6 L1090.7 727.3 L1091.5 729.5 L1092.3 731.1 L1093.1 733.9 L1094.2 734.7 L1095.3 736.8 L1096.4 739.6 L1097.5 743.6 L1098.6 745.6 L1099.7 747.7 L1100.8 749.5 L1102.0 751.6 L1103.0 754.7 L1104.1 756.7 L1105.1 756.5 L1106.5 763.5 L1107.8 761.9 L1109.2 767.3 L1110.6 768.4 L1111.9 769.8 L1113.3 773.3 L1114.7 775.2 L1116.2 779.5 L1117.7 780.8 L1119.1 783.3 L1120.6 783.0 L1122.1 787.3 L1123.6 789.5 L1125.2 792.3 L1126.8 793.9 L1128.5 798.0 L1130.4 798.1 L1132.2 800.9 L1134.1 803.4 L1136.0 806.5 L1137.9 807.4 L1139.8 809.7 L1141.7 811.2 L1143.6 812.3 L1145.5 816.5 L1146.9 819.1 L1148.3 820.5 L1150.1 819.9 L1152.0 822.5 L1153.8 824.9 L1155.7 828.4 L1157.5 830.7 L1159.2 833.1 L1161.1 833.4 L1162.9 834.7 L1164.8 838.1 L1166.6 837.5 L1168.8 839.7 L1170.6 842.6 L1172.0 843.0" fill="none" stroke="#0000cc" stroke-width="8" stroke-linejoin="round"/>
<line x1="548" y1="150.9" x2="548" y2="1048" stroke="#000" stroke-width="6.5" stroke-dasharray="9.5 19.1"/>
<path d="M1421.5 937.0 L1421.6 934.2 L1421.7 932.8 L1421.8 928.8 L1422.0 925.6 L1422.4 924.5 L1423.0 922.4 L1425.3 921.0 L1427.5 921.1 L1429.9 918.7 L1431.1 916.1 L1432.0 913.8 L1433.0 911.6 L1434.0 908.7 L1434.8 907.3 L1435.6 904.9 L1436.4 901.4 L1437.1 900.3 L1437.9 897.6 L1438.6 896.1 L1439.4 893.7 L1440.2 890.4 L1440.8 886.8 L1441.4 886.0 L1442.0 882.5 L1442.6 882.1 L1443.3 878.5 L1443.9 876.7 L1444.7 875.1 L1445.5 870.4 L1446.3 869.2 L1447.3 866.0 L1448.6 863.7 L1449.9 861.3 L1451.2 860.2 L1452.9 857.7 L1455.1 856.6 L1457.3 856.5 L1459.8 856.3 L1461.6 859.9 L1463.4 861.0 L1464.9 862.3 L1466.2 864.9 L1467.5 868.1 L1468.7 870.6 L1469.7 871.6 L1470.6 874.3 L1471.6 876.7 L1472.5 879.6 L1473.3 881.1 L1474.1 884.3 L1474.8 885.7 L1475.6 888.5 L1476.4 892.1 L1477.0 894.3 L1477.6 896.0 L1478.2 898.6 L1478.8 900.5 L1479.4 903.0 L1480.1 905.3 L1481.0 907.7 L1481.9 910.5 L1482.9 912.5 L1483.9 915.1 L1484.9 916.7 L1485.9 921.0 L1487.0 923.5 L1488.1 926.5 L1489.2 927.6 L1490.4 931.1 L1491.5 933.6 L1492.7 935.4 L1494.0 939.7 L1495.3 942.5 L1496.6 943.6 L1497.9 947.2 L1499.3 950.5 L1500.7 951.2 L1502.1 955.0 L1503.6 957.8 L1505.1 960.3 L1506.6 960.5 L1507.9 962.5 L1509.2 965.1 L1510.6 967.5 L1511.9 967.8 L1513.3 969.8 L1515.2 971.8 L1517.1 975.3 L1519.0 976.3 L1520.9 978.9 L1522.8 980.8 L1524.9 983.0 L1526.6 984.1 L1528.4 985.5 L1530.2 987.3 L1532.5 988.5 L1534.8 988.9 L1537.2 990.7 L1539.5 992.7 L1542.1 993.3 L1544.3 993.7 L1546.4 994.7 L1549.2 997.1 L1552.1 995.3 L1555.0 995.8 L1557.8 995.8 L1560.5 995.1 L1563.1 995.6 L1565.8 994.8 L1568.5 993.7 L1571.2 991.8 L1573.3 992.6 L1575.4 991.5 L1577.8 990.0 L1580.4 987.3 L1582.9 987.7 L1585.6 985.6 L1587.5 985.2 L1589.5 984.0 L1591.5 982.7 L1593.4 982.7 L1595.9 980.6 L1598.2 979.8 L1600.6 976.9 L1602.9 975.7 L1605.2 975.0 L1607.6 972.7 L1609.9 970.2 L1611.7 968.8 L1613.4 967.6 L1615.7 966.2 L1617.9 964.9 L1620.1 962.8 L1622.3 961.4 L1624.5 959.7 L1626.6 957.4 L1628.8 956.2 L1630.9 954.0 L1633.0 951.4 L1635.0 949.5 L1637.0 947.5 L1638.9 945.0 L1640.8 942.6 L1642.7 941.3 L1644.5 938.8 L1646.3 937.3 L1648.1 934.3 L1649.8 932.5 L1651.5 930.3 L1653.1 927.6 L1654.7 925.8 L1656.2 922.9 L1657.7 920.8 L1659.2 919.2 L1660.7 916.5 L1662.1 913.8 L1663.6 910.8 L1664.7 909.8 L1665.8 908.6 L1667.1 903.7 L1668.4 903.3 L1669.7 900.3 L1671.0 898.4 L1672.3 895.8 L1673.6 891.9 L1674.9 891.0 L1676.1 887.0 L1677.3 884.6 L1678.6 882.5 L1679.7 879.5 L1680.9 877.2 L1682.0 874.1 L1683.1 871.1 L1684.2 869.2 L1685.2 865.9 L1686.2 864.8 L1687.2 861.5 L1688.2 859.6 L1689.2 855.3 L1690.3 852.0 L1691.0 849.9 L1692.0 848.4 L1693.0 845.3 L1694.0 843.7 L1694.9 839.9 L1695.9 837.3 L1696.9 835.6 L1697.8 832.5 L1698.8 830.4 L1699.8 827.8 L1700.8 824.8 L1701.7 821.2 L1702.7 818.7 L1703.7 818.0 L1704.6 813.8 L1705.6 811.5 L1706.6 808.8 L1707.6 806.1 L1708.5 803.4 L1709.5 800.5 L1710.5 797.9 L1711.4 794.3 L1712.4 793.9 L1713.4 790.1 L1714.3 786.6 L1715.2 785.2 L1716.1 782.7 L1717.0 778.8 L1717.9 776.7 L1718.8 775.3 L1719.6 772.0 L1720.5 769.3 L1721.4 766.9 L1722.3 763.5 L1723.2 760.7 L1724.1 759.1 L1725.0 755.2 L1725.8 752.6 L1726.6 750.4 L1727.5 747.4 L1728.3 744.0 L1729.1 743.2 L1730.0 739.3 L1730.8 737.8 L1731.6 734.3 L1732.4 730.7 L1733.3 729.4 L1734.1 725.7 L1734.9 722.5 L1735.8 720.3 L1736.6 716.3 L1737.4 715.2 L1738.3 711.8 L1739.1 709.3 L1740.0 706.2 L1740.8 704.4 L1741.7 701.4 L1742.6 699.1 L1743.4 696.7 L1744.2 693.1 L1745.1 690.3 L1745.9 687.8 L1746.7 684.6 L1747.5 682.2 L1748.2 680.5 L1748.9 677.3 L1749.7 673.9 L1750.5 672.2 L1751.3 670.1 L1752.0 668.4 L1752.7 664.6 L1753.5 661.9 L1754.2 659.9 L1755.0 657.0 L1755.7 655.1 L1756.3 652.2 L1757.0 650.2 L1757.6 647.4 L1758.3 645.9 L1759.0 642.9 L1759.7 640.5 L1760.4 637.2 L1761.1 633.8 L1761.8 631.8 L1762.4 629.7 L1762.9 628.2 L1763.5 626.0 L1764.0 623.2 L1764.6 621.0 L1765.2 618.2 L1765.7 616.6 L1766.3 614.6 L1766.8 612.1 L1767.6 608.9 L1768.3 607.5 L1769.0 603.5 L1769.7 602.3 L1770.4 599.3 L1771.1 596.8 L1771.8 592.6 L1772.5 590.8 L1773.2 586.9 L1773.9 584.9 L1774.6 581.5 L1775.3 579.3 L1776.0 576.8 L1776.7 575.0 L1777.4 572.3 L1778.2 568.7 L1779.0 566.1 L1779.8 562.9 L1780.6 560.0 L1781.4 557.0 L1782.2 555.3 L1783.1 553.1 L1783.9 549.6 L1784.8 547.6 L1785.7 543.9 L1786.6 541.3 L1787.5 538.8 L1788.4 536.9 L1789.4 533.3 L1790.3 531.4 L1791.2 528.0 L1792.2 524.9 L1793.1 521.7 L1794.0 520.0 L1794.9 517.1 L1795.9 515.7 L1796.8 512.7 L1797.6 509.3 L1798.3 508.7 L1799.0 506.4 L1799.8 502.2 L1800.5 501.3 L1801.2 500.0 L1802.2 496.1 L1803.2 493.9 L1804.2 492.0 L1805.1 489.2 L1806.1 486.7 L1807.1 484.2 L1808.2 480.8 L1809.2 480.4 L1810.3 476.9 L1811.3 475.6 L1812.6 471.6 L1813.7 470.0 L1814.9 467.9 L1816.0 465.6 L1817.2 464.0 L1818.8 461.6 L1820.4 459.6 L1822.1 457.0 L1823.7 454.6 L1825.3 452.7 L1826.8 451.2 L1828.4 448.2 L1829.9 446.5 L1831.5 443.8 L1832.8 440.6 L1834.0 439.4 L1835.3 437.5 L1836.9 434.8 L1838.4 432.9 L1840.0 430.0 L1841.6 429.0 L1843.3 426.4 L1845.0 425.4 L1846.8 422.8 L1848.4 420.2 L1850.2 419.2 L1851.9 417.7 L1853.8 415.7 L1855.6 414.4 L1857.4 412.5 L1859.1 411.4 L1861.3 410.3 L1863.3 408.5 L1866.2 407.5 L1868.6 404.3 L1871.3 405.0 L1873.9 405.3 L1876.4 406.7 L1878.7 407.2 L1881.0 408.3 L1883.0 409.6 L1885.1 411.5 L1887.4 412.7 L1889.2 413.6 L1891.0 415.3 L1892.8 416.3 L1894.6 418.2 L1896.3 420.3 L1898.1 421.6 L1900.0 424.0 L1901.8 425.8 L1903.6 427.5 L1905.5 429.7 L1906.9 432.7 L1908.2 434.1 L1909.6 436.4 L1911.0 437.6 L1912.7 439.9 L1914.4 442.3 L1916.0 444.2 L1917.6 447.5 L1919.3 449.6 L1920.9 451.5 L1922.6 453.0 L1924.2 455.7 L1925.9 458.4 L1927.5 461.3 L1929.1 462.9 L1930.7 465.3 L1932.3 467.9 L1933.9 470.0 L1935.5 472.2 L1937.2 473.9 L1938.8 477.6 L1940.5 479.1 L1942.2 481.1 L1944.0 483.6 L1945.9 485.0 L1947.8 487.0 L1949.7 489.1 L1951.7 492.6 L1953.7 493.7 L1955.7 496.7 L1957.6 497.9 L1959.5 499.5 L1961.3 502.1 L1962.9 503.8 L1964.5 505.6 L1966.0 508.8 L1967.5 509.6 L1969.0 510.8 L1971.0 513.8 L1972.9 515.0 L1974.9 517.5 L1976.9 517.2 L1979.0 519.7 L1981.2 519.0 L1984.0 519.6 L1986.8 520.2 L1989.7 519.3 L1992.5 518.7 L1995.3 519.3 L1998.2 519.1 L2001.0 517.8 L2003.8 518.7 L2006.0 517.0 L2008.1 516.2 L2010.4 515.3 L2012.7 514.1 L2015.1 513.2 L2017.4 509.6 L2019.2 509.6 L2020.9 508.7 L2022.6 506.8 L2024.8 504.7 L2026.7 502.3 L2028.6 501.2 L2030.6 498.8 L2032.5 497.1 L2034.4 494.2 L2036.3 492.4 L2037.7 490.7 L2039.0 488.1 L2040.5 487.3 L2042.0 484.3 L2043.5 481.2 L2044.9 479.3 L2046.3 476.9 L2047.3 474.7 L2048.3 472.3 L2049.3 470.8 L2050.5 467.5 L2051.6 464.7 L2052.7 463.7 L2053.7 461.3 L2054.5 458.7 L2055.4 456.2 L2056.2 452.9 L2056.9 448.8 L2057.7 446.2 L2058.5 444.6 L2059.3 441.0 L2060.2 438.4 L2061.1 435.9 L2062.1 433.6 L2063.0 430.0 L2064.0 428.3 L2065.0 426.0 L2066.0 421.9 L2066.9 421.7 L2067.8 419.2 L2068.8 415.8 L2069.8 415.0 L2070.9 411.8 L2072.0 409.3 L2073.1 407.4 L2074.3 402.4 L2075.4 401.3 L2076.6 399.2 L2077.5 397.4 L2078.4 394.5 L2079.2 392.3 L2080.1 389.8 L2081.1 387.4 L2082.0 384.6 L2082.9 381.2 L2083.8 379.8 L2084.7 377.0 L2085.6 374.6 L2086.4 372.1 L2087.3 369.4 L2088.2 367.0 L2089.1 364.2 L2089.8 361.8 L2090.5 359.5 L2091.1 357.6 L2091.8 355.2 L2092.5 353.0 L2093.2 351.5 L2093.9 348.3 L2094.7 345.3 L2095.4 341.6 L2096.2 339.2 L2096.9 335.5 L2097.7 335.0 L2098.2 333.0 L2098.8 329.9 L2099.4 327.7 L2099.9 326.2 L2100.5 324.1 L2101.2 319.9 L2101.9 318.0 L2102.7 315.2 L2103.3 311.9 L2104.0 310.9 L2104.7 308.0 L2105.4 304.4 L2106.0 302.5 L2106.5 300.0 L2107.3 297.3 L2108.0 294.6 L2108.6 292.7 L2109.3 289.5 L2110.0 286.6 L2110.6 283.8 L2111.3 281.8 L2111.9 278.5 L2112.6 275.4 L2113.2 273.6 L2113.9 271.9 L2114.6 267.7 L2115.2 265.5 L2115.8 262.5 L2116.3 261.2 L2116.8 258.5 L2117.3 255.2 L2117.7 254.8 L2118.2 251.5 L2118.7 248.8 L2119.2 246.8 L2119.7 244.9 L2120.1 243.4 L2120.8 239.8 L2121.4 236.7 L2122.1 235.4 L2122.7 233.0 L2123.3 229.5 L2124.1 227.2 L2124.9 224.7 L2125.8 221.8 L2126.6 219.1 L2127.5 218.1 L2128.6 214.2 L2129.7 211.3 L2130.8 210.5 L2132.0 208.9 L2133.7 205.9 L2135.3 202.7 L2137.0 201.0 L2138.6 199.1 L2140.8 198.3 L2143.0 197.0 L2145.0 198.8 L2147.0 202.0 L2148.5 202.3 L2150.2 206.3 L2151.9 207.9 L2153.1 208.5 L2154.3 212.4 L2155.5 213.6 L2156.8 217.0 L2158.1 219.1 L2159.1 221.0 L2160.1 223.2 L2161.2 224.5 L2162.2 226.9 L2163.3 229.1 L2164.4 232.4 L2165.8 233.3 L2167.1 236.2 L2168.5 238.6 L2170.0 241.5 L2171.4 243.0 L2172.9 245.6 L2174.4 247.4 L2176.0 251.8 L2177.6 251.8 L2179.2 255.3 L2180.8 257.2 L2182.4 259.8 L2184.1 261.5 L2185.7 263.8 L2187.5 266.8 L2189.2 269.0 L2191.0 270.6 L2192.7 272.8 L2194.5 275.3 L2195.8 276.9 L2197.1 279.1 L2198.4 281.1 L2199.9 283.3 L2201.4 284.3 L2202.8 287.6 L2204.3 289.5 L2205.8 292.9 L2207.2 295.0 L2208.7 297.8 L2210.2 300.2 L2211.6 303.3 L2213.1 306.1 L2214.6 307.8 L2216.0 309.2 L2217.5 312.5 L2219.1 316.2 L2220.6 317.0 L2222.2 319.7 L2223.8 323.6 L2225.3 325.4 L2226.9 327.1 L2228.5 329.2 L2230.0 330.6 L2231.6 334.6 L2233.2 336.5 L2234.7 337.3 L2236.3 340.5 L2237.9 342.9 L2239.4 345.3 L2241.0 347.3 L2242.5 351.6 L2244.1 352.0 L2245.7 355.8 L2247.2 357.7 L2248.8 359.6 L2250.3 362.3 L2251.9 364.7 L2253.4 366.1 L2255.0 368.6 L2256.3 371.3 L2258.0 373.5 L2259.7 375.5 L2261.4 376.7 L2263.1 378.7 L2264.8 382.8 L2266.5 384.9 L2268.2 386.6 L2270.0 388.8 L2271.7 390.7 L2273.4 393.5 L2275.0 396.2 L2276.6 398.3 L2278.2 399.8 L2279.9 402.8 L2281.1 404.1 L2282.3 406.2 L2283.5 407.4 L2285.2 409.1 L2286.7 412.3 L2288.3 415.4 L2289.7 417.1 L2291.2 420.1 L2292.5 421.6 L2293.8 424.1 L2294.9 425.6 L2296.4 429.1 L2297.8 430.4 L2299.1 432.9 L2300.4 435.8 L2301.7 438.4 L2303.0 439.2 L2304.3 443.3 L2305.6 444.4 L2306.7 446.8 L2307.8 449.4 L2309.0 453.1 L2310.1 454.5 L2311.2 458.2 L2312.3 460.8 L2313.2 462.4 L2314.1 464.9 L2315.0 467.8 L2315.9 469.6 L2316.9 470.1 L2318.1 473.3 L2319.4 475.4 L2320.8 478.0 L2322.1 480.3 L2323.5 483.4 L2324.9 485.0 L2326.4 487.3 L2327.8 490.5 L2329.2 493.2 L2330.7 496.3 L2332.1 498.5 L2333.4 500.1 L2334.7 502.5 L2336.0 505.8 L2337.3 508.2 L2338.6 511.0 L2339.8 513.9 L2341.1 514.3 L2342.4 517.8 L2343.7 521.1 L2345.0 522.6 L2346.3 526.7 L2347.5 528.1 L2348.8 531.0 L2350.2 533.1 L2351.6 536.0 L2352.9 538.5 L2354.2 541.1 L2355.6 542.4 L2356.9 544.5 L2358.3 548.1 L2359.7 551.1 L2361.1 552.9 L2362.5 555.4 L2364.0 558.7 L2365.5 560.8 L2367.0 562.3 L2368.5 565.3 L2370.1 567.5 L2371.7 570.1 L2373.3 572.4 L2374.8 575.2 L2376.4 577.3 L2378.0 579.8 L2379.5 582.0 L2380.9 584.2 L2382.4 586.3 L2383.5 588.8 L2384.6 590.8 L2385.7 593.4 L2387.1 596.5 L2388.5 597.2 L2389.8 599.7 L2391.1 603.2 L2392.5 604.7 L2393.8 607.3 L2395.2 608.7 L2396.6 612.0 L2398.0 612.7 L2399.3 616.0 L2400.7 616.6 L2402.6 619.5 L2404.4 622.1 L2406.3 623.0 L2408.2 625.5 L2410.0 628.8 L2411.9 628.7 L2413.9 631.7 L2415.8 632.5 L2417.8 635.9 L2419.8 637.5 L2421.7 638.8 L2423.7 640.7 L2425.8 644.1 L2427.8 645.7 L2429.4 646.1 L2431.2 648.9 L2433.0 649.5 L2434.8 651.3 L2436.6 653.6 L2438.3 654.9 L2440.5 657.2 L2442.3 659.1 L2444.0 659.6 L2444.0 660.0" fill="none" stroke="#ff0000" stroke-width="7" stroke-linejoin="round"/>
<path d="M1421.5 390.2L1421.8 397.2M1423.3 418.9L1424.3 425.8M1427.2 447.3L1427.9 454.2M1429.8 475.8L1430.3 482.8M1431.9 504.2L1432.5 511.2M1434.7 532.7L1435.5 539.7M1438.5 561.1L1439.7 568.0M1443.6 589.1L1444.4 596.1M1447.4 617.4L1448.9 624.2M1454.6 645.2L1456.5 651.9M1462.4 672.5L1464.5 679.2M1470.3 699.9L1471.5 706.8M1475.2 728.3L1476.8 735.1M1482.5 755.9L1484.8 762.5M1490.6 783.4L1492.1 790.2M1499.4 810.1L1502.4 816.4M1509.9 831.7L1513.2 837.9M1521.4 852.8L1524.7 859.0M1533.1 871.2L1537.8 876.4M1544.9 881.4L1549.8 886.4M1557.7 894.6L1564.0 897.6M1571.9 899.4L1578.9 899.6M1587.1 897.8L1594.0 898.8M1602.2 901.9L1609.2 901.6M1617.2 897.8L1624.2 896.9M1632.2 896.6L1639.0 894.8M1647.1 890.8L1653.7 888.4M1661.3 884.4L1667.6 881.4M1675.7 883.8L1682.5 881.9M1690.4 875.8L1697.0 873.6M1705.1 874.5L1711.7 872.5M1719.6 866.1L1725.9 862.9M1733.8 859.8L1740.0 856.5M1747.8 854.1L1754.3 851.4M1762.4 848.3L1768.8 845.6M1776.7 837.3L1782.5 833.5M1790.3 831.6L1796.6 828.5M1804.5 825.1L1810.8 822.0M1818.7 814.6L1824.6 810.8M1832.2 805.0L1837.9 801.0M1845.9 800.4L1851.8 796.7M1859.5 789.6L1865.4 785.8M1873.2 778.3L1878.8 774.2M1886.3 769.5L1891.3 764.6M1898.8 755.4L1903.3 750.1M1910.3 744.8L1914.8 739.5M1922.7 730.7L1927.4 725.5M1932.8 711.1L1935.3 704.5M1941.3 696.3L1944.5 690.1M1950.1 675.7L1952.7 669.2M1958.9 656.0L1962.0 649.8M1968.5 629.9L1970.5 623.2M1976.3 602.3L1978.5 595.7M1986.3 575.6L1988.8 569.1M1995.0 551.6L1997.7 545.1M2005.6 531.6L2010.6 526.8M2022.6 523.2L2028.4 527.1M2038.7 536.5L2043.4 541.6M2052.2 553.0L2058.9 555.2M2071.0 556.7L2077.9 555.4M2087.3 545.3L2091.8 539.9M2100.9 526.2L2103.6 519.7M2110.2 499.4L2112.0 492.6M2116.9 471.3L2118.2 464.4M2122.3 443.4L2123.8 436.6M2128.4 415.4L2129.7 408.5M2133.2 387.0L2134.0 380.0M2136.4 358.9L2137.5 352.0M2141.0 330.4L2141.8 323.4M2143.9 302.0L2144.8 295.1M2148.2 273.7L2149.0 266.8M2150.7 245.3L2151.2 238.3M2153.5 216.9L2154.4 209.9M2159.6 189.3L2163.9 194.8M2167.7 215.9L2168.5 222.8M2171.1 244.3L2172.2 251.3M2174.9 272.7L2175.6 279.7M2178.6 301.2L2179.8 308.1M2183.0 329.3L2183.8 336.2M2186.3 357.7L2187.0 364.7M2189.3 386.0L2190.1 392.9M2192.6 414.4L2193.4 421.3M2195.6 442.9L2196.2 449.9M2198.4 471.4L2199.2 478.4M2202.8 499.7L2204.3 506.5M2210.7 527.2L2213.3 533.7M2220.0 554.1L2222.0 560.8M2230.6 580.7L2234.0 586.8M2246.7 604.1L2253.3 606.6M2268.9 592.4L2272.1 586.2M2279.8 566.2L2281.9 559.6M2289.7 539.3L2292.1 532.8M2296.7 511.8L2298.3 505.0M2305.8 484.5L2309.1 478.3M2322.9 476.7L2325.6 483.2M2331.7 503.6L2333.1 510.5M2337.2 531.8L2338.3 538.7M2341.5 560.3L2342.6 567.2M2347.4 588.0L2349.5 594.7M2356.8 615.1L2359.4 621.7M2368.0 641.5L2371.0 647.8M2380.8 666.9L2384.2 673.0M2396.7 690.5L2401.4 695.7M2417.4 710.5L2423.1 714.5" fill="none" stroke="#ff0000" stroke-width="7"/>
<path d="M1421.0 484.0 L1421.0 486.6 L1421.0 488.9 L1421.0 491.3 L1421.0 493.5 L1421.1 498.8 L1421.1 495.7 L1421.1 501.7 L1421.1 503.4 L1421.1 507.8 L1421.1 507.3 L1421.1 512.4 L1421.2 513.2 L1421.2 515.9 L1421.2 518.9 L1421.2 519.1 L1421.3 522.7 L1421.3 528.3 L1421.4 526.2 L1421.4 531.7 L1421.5 533.6 L1421.6 535.6 L1421.6 537.3 L1421.7 541.8 L1421.8 551.3 L1421.9 545.7 L1422.0 549.0 L1422.1 552.9 L1422.2 554.4 L1422.4 557.9 L1422.5 559.4 L1422.6 562.6 L1422.7 566.0 L1422.9 568.2 L1423.0 571.6 L1423.1 575.6 L1423.2 575.4 L1423.3 581.6 L1423.4 582.4 L1423.5 582.9 L1423.6 594.0 L1423.7 587.6 L1423.8 590.5 L1423.9 593.1 L1424.0 600.8 L1424.1 597.6 L1424.2 601.5 L1424.3 602.8 L1424.4 605.8 L1424.5 607.5 L1424.6 610.5 L1424.6 614.1 L1424.7 617.4 L1424.8 619.3 L1424.9 625.2 L1425.0 625.6 L1425.1 630.3 L1425.2 631.9 L1425.2 633.7 L1425.3 637.2 L1425.4 639.1 L1425.4 640.5 L1425.5 642.0 L1425.6 645.1 L1425.7 646.9 L1425.8 648.3 L1425.9 655.0 L1426.0 657.5 L1426.1 658.3 L1426.2 662.4 L1426.3 664.1 L1426.4 667.3 L1426.5 670.4 L1426.6 674.0 L1426.7 676.8 L1426.8 679.7 L1426.9 677.8 L1427.0 682.1 L1427.1 684.9 L1427.2 688.7 L1427.3 690.4 L1427.4 693.6 L1427.6 696.1 L1427.7 698.6 L1427.8 699.4 L1428.0 703.8 L1428.1 710.9 L1428.2 710.0 L1428.4 711.4 L1428.5 713.6 L1428.7 717.6 L1428.8 719.2 L1429.0 723.3 L1429.1 733.7 L1429.3 730.6 L1429.5 729.3 L1429.7 730.7 L1429.9 737.2 L1430.1 739.3 L1430.2 739.9 L1430.4 744.7 L1430.6 745.8 L1430.8 747.4 L1431.0 747.6 L1431.2 752.8 L1431.4 754.8 L1431.6 757.5 L1431.8 758.2 L1432.1 760.7 L1432.4 765.5 L1432.7 766.9 L1433.0 770.9 L1433.3 773.0 L1433.6 775.9 L1433.9 780.1 L1434.2 781.1 L1434.5 783.5 L1434.8 788.2 L1435.1 789.3 L1435.4 790.6 L1435.7 795.1 L1436.0 795.5 L1436.2 799.4 L1436.5 802.5 L1436.9 802.9 L1437.2 807.9 L1437.5 809.4 L1437.9 812.6 L1438.2 815.2 L1438.6 817.0 L1438.9 819.5 L1439.3 822.4 L1439.7 825.9 L1440.1 828.2 L1440.5 831.5 L1440.8 833.8 L1441.2 836.5 L1441.6 837.0 L1441.9 840.2 L1442.3 842.9 L1442.7 842.6 L1443.1 848.1 L1443.5 852.2 L1443.9 853.5 L1444.3 856.7 L1444.7 852.9 L1445.2 862.5 L1445.5 864.4 L1445.8 866.5 L1446.1 869.0 L1446.5 877.2 L1446.9 874.8 L1447.3 876.5 L1447.8 880.4 L1448.2 882.6 L1448.6 887.8 L1449.1 889.2 L1449.5 889.6 L1449.9 892.9 L1450.3 895.6 L1450.6 897.3 L1451.0 900.1 L1451.3 900.1 L1451.7 905.9 L1452.0 906.1 L1452.4 909.7 L1452.7 911.1 L1453.1 913.4 L1453.5 918.8 L1454.0 920.2 L1454.5 922.8 L1454.9 925.1 L1455.4 929.9 L1455.9 928.5 L1456.4 930.9 L1456.9 933.9 L1457.5 935.0 L1458.0 942.4 L1458.7 946.9 L1459.4 944.6 L1460.0 948.7 L1460.7 949.0 L1461.4 952.5 L1462.3 956.7 L1463.3 959.5 L1464.3 964.0 L1465.2 962.3 L1466.3 964.1 L1467.3 968.2 L1468.4 966.6 L1469.4 970.9 L1470.6 973.2 L1471.7 975.0 L1472.9 979.0 L1474.1 980.3 L1475.4 982.0 L1476.6 981.6 L1477.9 988.5 L1479.2 999.2 L1480.5 1007.0 L1481.8 1002.9 L1483.2 999.2 L1484.5 1003.1 L1485.8 994.4 L1486.8 1009.3 L1487.8 1013.9 L1488.8 1017.3 L1489.8 1011.3 L1490.8 1018.7 L1491.9 1009.3 L1492.9 1017.0 L1494.0 1028.8 L1495.0 1020.0 L1496.4 1021.3 L1497.8 1032.5 L1499.2 1031.8 L1500.6 1032.7 L1502.1 1030.3 L1503.8 1035.6 L1505.6 1039.3 L1508.0 1037.9 L1510.3 1041.7 L1512.7 1038.2 L1515.1 1050.8 L1517.4 1044.0 L1519.9 1047.6 L1521.8 1046.6 L1523.7 1041.4 L1525.6 1045.7 L1528.1 1053.0 L1530.6 1054.6 L1533.1 1055.1 L1535.7 1047.8 L1537.9 1057.0 L1540.2 1052.1 L1542.4 1045.3 L1544.6 1051.1 L1546.8 1051.8 L1549.6 1049.9 L1552.1 1053.1 L1554.1 1044.7 L1556.3 1044.8 L1558.3 1044.5 L1560.4 1048.5 L1562.8 1041.0 L1565.3 1040.6 L1567.9 1040.1 L1570.6 1044.1 L1573.5 1042.0 L1575.7 1040.2 L1578.1 1043.6 L1580.5 1042.2 L1583.0 1038.9 L1585.6 1036.2 L1588.3 1040.6 L1591.1 1038.3 L1594.0 1033.6 L1596.1 1040.5 L1598.3 1036.0 L1600.4 1027.3 L1603.2 1038.3 L1605.9 1035.4 L1608.6 1032.6 L1611.2 1028.7 L1613.9 1030.9 L1616.6 1029.6 L1619.3 1028.5 L1622.0 1026.0 L1624.7 1021.3 L1627.3 1019.5 L1629.9 1023.9 L1632.5 1019.6 L1635.1 1017.6 L1637.7 1015.8 L1640.3 1017.8 L1642.8 1012.3 L1645.2 1015.9 L1647.6 1011.0 L1650.1 1008.7 L1652.2 1006.1 L1654.8 1013.0 L1657.3 1011.3 L1659.7 1005.2 L1662.1 1003.0 L1664.6 1001.1 L1666.9 1005.3 L1669.1 999.5 L1671.3 1000.5 L1673.5 992.9 L1675.1 993.9 L1676.8 992.5 L1678.4 997.8 L1680.6 995.0 L1682.8 992.3 L1685.2 984.6 L1687.5 992.7 L1689.9 984.2 L1692.2 983.0 L1694.6 986.4 L1697.0 981.0 L1699.3 980.4 L1701.7 980.1 L1704.0 983.9 L1706.4 986.4 L1708.7 969.9 L1711.0 966.6 L1713.4 970.2 L1715.1 971.2 L1716.9 966.3 L1718.7 969.5 L1720.6 964.2 L1722.4 968.1 L1724.3 961.9 L1725.7 957.0 L1727.1 955.0 L1728.5 954.1 L1729.8 955.7 L1731.7 952.8 L1733.5 947.2 L1735.5 948.4 L1737.0 941.2 L1739.1 941.7 L1741.2 943.1 L1743.2 937.7 L1745.2 934.3 L1747.2 933.5 L1749.1 933.1 L1751.0 923.9 L1752.6 921.7 L1754.6 926.8 L1756.5 926.1 L1758.3 924.0 L1760.2 918.0 L1762.1 912.8 L1764.0 925.7 L1765.9 905.5 L1767.7 911.5 L1769.5 910.1 L1771.3 905.8 L1773.2 907.2 L1775.0 903.1 L1776.9 907.2 L1778.8 899.9 L1780.6 896.0 L1782.4 894.1 L1784.3 897.6 L1786.1 892.2 L1788.0 889.1 L1789.8 890.8 L1791.7 884.5 L1793.5 883.9 L1795.4 879.7 L1797.2 877.6 L1799.0 881.4 L1800.3 874.5 L1801.6 869.7 L1802.8 869.0 L1804.1 863.4 L1805.9 863.8 L1807.8 866.7 L1809.8 864.5 L1811.9 855.6 L1814.4 859.1 L1817.0 852.7 L1819.8 856.5 L1821.9 855.9 L1824.1 852.1 L1826.3 850.0 L1829.1 850.9 L1831.8 854.2 L1834.5 847.1 L1836.6 849.3 L1839.4 853.9 L1842.0 859.4 L1844.6 849.8 L1847.2 850.1 L1849.9 844.8 L1852.5 845.9 L1855.4 846.5 L1857.6 846.2 L1859.9 851.6 L1862.1 849.3 L1864.3 852.0 L1867.2 854.1 L1870.0 846.5 L1872.6 847.4 L1875.1 842.0 L1877.5 844.1 L1879.9 837.7 L1882.2 840.6 L1884.5 838.1 L1886.3 837.7 L1888.4 833.0 L1890.5 834.2 L1892.6 828.2 L1894.6 832.7 L1896.2 827.6 L1897.7 827.9 L1899.7 824.3 L1901.6 820.4 L1903.5 821.6 L1905.4 816.4 L1907.2 813.3 L1908.9 810.1 L1910.7 805.0 L1912.4 809.6 L1913.7 809.5 L1915.0 805.3 L1916.3 808.0 L1917.6 800.5 L1919.0 800.4 L1920.0 796.3 L1921.0 793.4 L1922.0 793.4 L1923.0 789.0 L1924.0 792.3 L1924.9 789.1 L1926.1 775.3 L1927.2 777.8 L1928.2 782.0 L1929.2 781.6 L1930.4 777.1 L1931.6 776.6 L1932.6 774.0 L1933.6 766.9 L1934.5 766.7 L1935.1 764.5 L1935.7 760.4 L1936.1 758.1 L1936.5 757.2 L1936.8 752.6 L1937.1 750.6 L1937.3 747.6 L1937.4 745.5 L1937.6 741.4 L1937.8 741.1 L1937.9 739.3 L1938.1 743.8 L1938.2 733.1 L1938.4 730.9 L1938.6 727.6 L1938.7 723.6 L1938.8 723.3 L1938.9 722.0 L1939.0 716.6 L1939.1 714.1 L1939.2 713.3 L1939.2 707.2 L1939.3 705.7 L1939.4 702.8 L1939.5 700.5 L1939.6 698.6 L1939.7 695.0 L1939.9 691.9 L1940.0 687.3 L1940.1 687.0 L1940.2 686.1 L1940.3 682.0 L1940.4 681.0 L1940.5 679.0 L1940.7 674.6 L1940.8 673.0 L1940.9 669.5 L1941.0 668.9 L1941.1 663.3 L1941.2 661.7 L1941.3 655.6 L1941.3 656.2 L1941.4 654.5 L1941.5 650.8 L1941.6 650.4 L1941.8 648.6 L1942.0 644.7 L1942.4 639.3 L1943.0 639.3 L1943.8 638.4 L1944.9 634.2 L1946.0 635.6 L1946.2 637.9 L1946.4 641.8 L1946.6 646.4 L1946.9 647.8 L1947.1 648.8 L1947.7 651.6 L1948.5 655.3 L1949.5 657.5 L1950.4 660.7 L1952.2 662.6 L1953.0 658.5 L1953.6 656.1 L1954.1 653.7 L1954.6 651.6 L1955.1 649.5 L1955.6 646.1 L1956.2 643.4 L1957.0 643.8 L1957.8 638.4 L1958.7 638.4 L1959.6 633.4 L1960.5 631.4 L1961.2 630.4 L1961.9 625.5 L1962.7 625.7 L1963.5 623.5 L1964.2 611.7 L1965.0 616.5 L1965.7 612.4 L1966.4 609.8 L1967.0 607.3 L1967.6 604.5 L1968.1 602.8 L1968.5 598.9 L1969.0 597.5 L1969.5 595.7 L1970.0 590.0 L1970.4 588.8 L1971.0 587.9 L1971.5 583.3 L1972.0 579.7 L1972.6 580.9 L1973.2 575.4 L1973.8 573.6 L1974.2 573.0 L1974.7 568.4 L1975.1 568.4 L1975.6 565.6 L1976.0 561.2 L1976.5 556.8 L1977.0 550.7 L1977.5 554.6 L1977.9 550.3 L1978.4 553.9 L1978.8 545.6 L1979.2 544.3 L1979.6 540.5 L1980.0 540.1 L1980.4 535.0 L1980.8 530.5 L1981.2 528.7 L1981.6 527.0 L1982.0 522.9 L1982.4 518.4 L1982.8 520.3 L1983.2 514.9 L1983.6 517.8 L1984.0 508.9 L1984.4 505.1 L1984.8 507.5 L1985.3 500.6 L1985.7 498.1 L1986.2 495.7 L1986.7 493.6 L1987.2 491.8 L1987.7 486.6 L1988.3 484.7 L1988.8 481.6 L1989.4 479.3 L1990.0 475.8 L1990.6 474.3 L1991.1 470.4 L1991.7 468.7 L1992.2 464.4 L1992.7 462.7 L1993.2 459.7 L1993.7 456.3 L1994.1 455.2 L1994.6 451.5 L1995.0 447.3 L1995.5 445.6 L1995.9 440.9 L1996.4 441.0 L1996.8 438.1 L1997.3 435.0 L1997.8 430.5 L1998.2 428.6 L1998.7 426.2 L1999.2 423.2 L1999.7 419.1 L2000.2 417.6 L2000.7 414.8 L2001.2 411.7 L2001.8 408.5 L2002.3 405.8 L2002.8 402.6 L2003.4 400.1 L2004.0 395.2 L2004.6 393.7 L2005.1 393.6 L2005.7 393.1 L2006.3 390.1 L2006.8 384.0 L2007.6 384.2 L2008.5 382.5 L2009.4 380.3 L2010.3 378.3 L2011.4 376.3 L2012.7 370.0 L2013.9 369.8 L2015.1 368.0 L2016.5 364.9 L2017.9 364.3 L2019.3 361.2 L2021.2 359.9 L2023.5 356.3 L2025.8 355.9 L2027.5 359.8 L2028.9 362.7 L2030.3 366.0 L2031.3 365.7 L2032.4 369.2 L2033.4 372.3 L2034.5 373.7 L2035.5 375.1 L2036.6 378.2 L2037.6 382.6 L2038.6 383.4 L2039.5 385.2 L2040.5 388.0 L2041.5 390.2 L2042.4 391.6 L2043.4 395.2 L2044.4 397.8 L2045.3 401.7 L2046.0 402.0 L2046.8 404.8 L2047.5 406.4 L2048.2 411.9 L2048.9 412.8 L2049.6 413.9 L2050.3 417.8 L2051.1 419.8 L2051.8 425.3 L2052.5 423.2 L2053.3 428.6 L2054.0 429.8 L2054.6 431.9 L2055.1 434.8 L2055.7 436.1 L2056.2 439.8 L2056.8 441.3 L2057.3 444.0 L2057.9 444.2 L2058.6 447.0 L2059.4 449.4 L2060.1 454.5 L2060.8 457.1 L2061.5 458.2 L2062.4 456.1 L2063.1 464.9 L2063.8 466.4 L2064.5 468.6 L2065.2 472.8 L2065.9 471.9 L2066.6 474.4 L2067.3 477.7 L2068.1 478.2 L2069.0 482.6 L2069.9 482.4 L2070.8 485.7 L2071.7 489.0 L2072.5 490.3 L2073.6 493.2 L2074.9 496.7 L2076.0 500.0 L2077.6 499.4 L2079.6 502.3 L2082.1 503.7 L2084.5 504.4 L2086.4 501.9 L2087.8 498.9 L2089.2 498.4 L2090.6 496.3 L2092.0 494.2 L2093.7 491.9 L2095.3 490.6 L2097.0 488.4 L2098.6 484.2 L2100.2 482.6 L2101.2 481.0 L2102.1 476.4 L2102.8 485.3 L2103.3 473.2 L2103.8 472.4 L2104.3 460.6 L2104.7 466.1 L2105.1 465.4 L2105.5 460.2 L2105.9 459.8 L2106.3 457.2 L2106.7 454.1 L2107.2 452.0 L2107.7 447.6 L2108.2 448.0 L2108.7 445.3 L2109.3 440.9 L2109.8 440.9 L2110.4 436.6 L2111.1 433.2 L2111.7 431.4 L2112.3 428.8 L2113.0 425.4 L2113.7 423.4 L2114.2 419.3 L2114.7 420.0 L2115.3 416.1 L2115.8 412.9 L2116.3 412.2 L2116.8 409.5 L2117.4 406.8 L2117.9 405.8 L2118.4 404.3 L2118.9 401.5 L2119.4 399.7 L2119.9 396.1 L2120.4 394.0 L2121.0 392.1 L2121.6 389.9 L2122.2 375.9 L2122.8 385.0 L2123.4 381.1 L2123.9 379.0 L2124.5 375.7 L2125.1 373.2 L2125.7 368.7 L2126.3 366.5 L2126.8 366.2 L2127.4 360.0 L2128.0 357.8 L2128.6 354.6 L2129.2 352.4 L2129.8 352.1 L2130.3 347.5 L2130.9 345.8 L2131.5 341.2 L2132.1 338.7 L2132.7 336.4 L2133.2 334.5 L2133.8 331.4 L2134.4 327.5 L2135.0 324.6 L2135.5 321.2 L2135.9 321.2 L2136.4 319.2 L2136.8 319.4 L2137.3 313.5 L2137.7 312.5 L2138.2 309.2 L2138.6 308.2 L2139.1 304.7 L2139.5 302.9 L2140.1 301.3 L2140.7 300.3 L2141.3 296.6 L2141.9 292.4 L2142.5 290.1 L2143.0 286.7 L2143.6 283.4 L2144.2 278.9 L2144.7 280.5 L2145.2 278.1 L2145.8 276.5 L2146.3 272.0 L2146.9 269.9 L2147.4 267.2 L2147.9 264.1 L2148.4 261.2 L2148.9 260.1 L2149.4 258.5 L2149.9 255.1 L2150.4 254.7 L2151.0 250.7 L2151.6 247.4 L2152.2 244.3 L2152.8 240.2 L2153.4 239.7 L2154.0 237.5 L2154.7 234.5 L2155.4 232.6 L2156.2 229.9 L2157.3 228.8 L2158.3 225.4 L2159.7 223.6 L2161.5 221.7 L2163.9 222.0 L2165.9 224.5 L2167.6 225.0 L2168.9 227.7 L2170.1 227.7 L2171.4 231.7 L2172.6 234.2 L2173.8 237.4 L2174.7 240.0 L2175.4 240.9 L2176.0 244.8 L2176.7 247.2 L2177.3 249.2 L2178.0 254.2 L2178.6 254.6 L2179.1 256.7 L2179.6 260.3 L2180.0 264.1 L2180.5 263.8 L2181.1 265.7 L2181.6 267.3 L2182.1 270.3 L2182.7 273.1 L2183.3 277.4 L2183.9 279.3 L2184.5 280.4 L2185.2 283.8 L2185.9 286.1 L2186.6 294.3 L2187.3 288.9 L2188.0 294.9 L2188.5 297.5 L2189.1 298.7 L2189.6 300.5 L2190.2 303.0 L2190.7 306.8 L2191.2 308.3 L2191.8 307.2 L2192.5 313.5 L2193.2 313.7 L2193.9 317.7 L2194.5 321.1 L2195.1 322.6 L2195.8 325.5 L2196.3 328.2 L2196.9 329.8 L2197.4 331.1 L2197.9 335.5 L2198.5 335.7 L2199.1 339.9 L2199.8 341.2 L2200.4 342.7 L2201.1 347.2 L2201.7 350.4 L2202.3 355.4 L2202.9 356.5 L2203.5 360.3 L2204.0 360.8 L2204.6 362.4 L2205.2 365.9 L2205.6 367.2 L2206.2 372.1 L2206.8 374.4 L2207.3 378.8 L2207.8 378.3 L2208.3 381.6 L2208.8 383.5 L2209.2 387.5 L2209.7 388.7 L2210.2 395.4 L2210.6 394.9 L2210.9 397.0 L2211.3 400.0 L2211.7 401.8 L2212.0 404.6 L2212.4 407.2 L2212.7 411.6 L2213.1 413.2 L2213.4 414.2 L2213.7 418.8 L2214.1 422.2 L2214.4 423.9 L2214.8 426.9 L2215.0 429.3 L2215.3 432.2 L2215.6 434.3 L2215.9 436.4 L2216.3 438.4 L2216.7 441.1 L2217.2 444.3 L2217.6 448.5 L2218.1 449.3 L2218.6 455.3 L2219.1 455.9 L2219.6 458.4 L2220.1 463.0 L2220.6 463.9 L2221.1 467.8 L2221.7 469.5 L2222.2 473.7 L2222.8 476.2 L2223.4 479.6 L2224.0 481.4 L2224.6 483.8 L2225.2 485.5 L2225.8 489.9 L2226.4 491.1 L2227.1 496.0 L2227.7 497.5 L2228.3 499.5 L2228.9 502.3 L2229.5 503.2 L2230.2 506.1 L2230.8 508.3 L2231.4 512.1 L2232.1 512.8 L2233.0 514.5 L2233.9 516.9 L2234.8 520.6 L2235.7 523.4 L2236.7 519.5 L2237.7 528.9 L2238.7 529.2 L2239.8 532.1 L2241.1 530.6 L2242.4 536.9 L2243.8 539.4 L2245.1 541.2 L2246.5 543.1 L2247.9 545.6 L2249.8 545.2 L2251.7 548.8 L2253.6 550.3 L2256.2 547.9 L2258.7 550.1 L2261.1 548.0 L2263.6 547.3 L2265.4 544.7 L2267.2 546.3 L2268.9 542.9 L2270.6 542.3 L2272.0 544.3 L2273.4 538.1 L2274.7 536.2 L2275.9 531.5 L2277.2 528.6 L2278.1 528.0 L2279.0 524.2 L2280.0 524.3 L2280.9 521.2 L2281.8 518.6 L2282.8 516.3 L2283.9 513.7 L2284.9 512.4 L2286.0 508.7 L2287.0 506.4 L2288.0 505.1 L2289.1 501.1 L2290.1 496.4 L2291.2 496.7 L2292.2 493.9 L2293.3 489.2 L2294.3 487.5 L2295.3 484.1 L2296.2 481.6 L2297.2 481.9 L2298.2 484.2 L2299.2 475.0 L2300.2 473.8 L2301.2 471.4 L2302.2 470.4 L2303.5 466.4 L2304.8 463.6 L2306.0 462.6 L2307.2 461.8 L2308.7 459.0 L2310.5 462.0 L2312.7 455.4 L2314.7 454.5 L2316.1 453.8 L2317.5 450.7 L2318.2 448.1 L2318.7 444.3 L2319.0 441.6 L2319.4 439.8 L2319.7 437.2 L2320.0 434.8 L2320.3 429.8 L2320.6 427.2 L2321.0 426.4 L2321.3 423.1 L2321.6 426.4 L2321.9 417.7 L2322.2 413.2 L2322.6 406.6 L2323.2 410.6 L2324.4 411.2 L2324.9 414.6 L2325.3 415.5 L2325.6 416.2 L2325.9 422.9 L2326.2 424.5 L2326.4 425.1 L2326.7 426.8 L2326.9 429.7 L2327.1 434.1 L2327.4 437.2 L2327.6 437.9 L2327.9 440.6 L2328.1 443.6 L2328.4 448.4 L2328.6 449.9 L2328.9 451.3 L2329.1 454.7 L2329.3 456.4 L2329.6 458.8 L2329.9 462.3 L2330.3 463.6 L2330.5 466.7 L2330.9 471.7 L2331.3 473.9 L2331.6 475.1 L2332.0 479.4 L2332.3 480.8 L2332.6 483.3 L2333.0 487.5 L2333.4 489.5 L2333.7 495.1 L2334.1 496.3 L2334.5 491.0 L2334.9 503.9 L2335.3 502.9 L2335.7 507.1 L2336.2 509.3 L2336.6 513.0 L2337.1 515.4 L2337.6 518.8 L2338.1 519.6 L2338.7 522.6 L2339.2 525.7 L2339.7 528.9 L2340.3 531.5 L2340.9 534.0 L2341.4 537.4 L2342.0 545.7 L2342.6 541.6 L2343.2 544.5 L2343.7 548.7 L2344.3 550.4 L2344.9 552.0 L2345.5 554.7 L2346.1 558.1 L2346.6 562.2 L2347.3 564.7 L2348.0 564.8 L2348.7 568.4 L2349.4 571.9 L2350.0 576.0 L2350.7 577.3 L2351.4 589.4 L2352.1 582.7 L2352.8 583.9 L2353.5 587.6 L2354.3 589.5 L2355.0 592.8 L2355.7 595.4 L2356.3 599.1 L2357.0 606.8 L2357.7 605.5 L2358.3 606.9 L2358.8 609.9 L2359.3 612.1 L2359.8 612.9 L2360.3 617.2 L2360.9 618.1 L2361.5 622.6 L2362.2 622.2 L2362.9 626.3 L2363.6 628.1 L2364.2 631.0 L2364.9 633.8 L2365.6 636.7 L2366.4 641.8 L2367.1 639.7 L2367.9 642.7 L2368.6 645.6 L2369.3 647.2 L2370.3 647.8 L2371.2 658.3 L2372.2 654.7 L2373.2 659.2 L2374.2 662.8 L2375.1 663.8 L2376.1 665.0 L2376.9 665.9 L2378.0 668.6 L2379.1 671.4 L2380.1 674.5 L2381.2 676.2 L2382.3 680.6 L2383.5 681.1 L2384.4 683.7 L2385.4 686.2 L2386.4 688.1 L2387.4 690.7 L2388.3 693.0 L2389.4 695.0 L2390.4 698.3 L2391.2 700.4 L2392.0 702.6 L2392.9 703.4 L2393.7 707.0 L2394.6 707.4 L2395.4 709.9 L2396.3 714.5 L2397.2 715.8 L2398.4 716.8 L2399.6 720.3 L2400.8 723.5 L2402.1 724.6 L2403.5 726.8 L2404.9 727.1 L2406.4 731.1 L2407.8 732.6 L2409.3 734.3 L2411.3 735.1 L2413.3 738.8 L2415.2 739.4 L2417.0 738.9 L2418.8 742.9 L2420.7 746.1 L2422.2 746.7 L2423.7 748.8 L2425.1 748.4 L2426.8 753.8 L2428.6 756.2 L2430.3 757.6 L2432.0 759.7 L2433.6 760.3 L2435.5 764.0 L2437.4 765.1 L2439.3 767.1 L2441.0 767.6 L2443.0 768.6 L2444.0 770.0" fill="none" stroke="#0000cc" stroke-width="8" stroke-linejoin="round"/>
<line x1="1871" y1="302.8" x2="1871" y2="944" stroke="#000" stroke-width="6.5" stroke-dasharray="9.5 19.1"/>
<rect x="148" y="142" width="1025" height="1034" fill="none" stroke="#2b2b2b" stroke-width="4"/>
<line x1="283.0" y1="142" x2="283.0" y2="164" stroke="#2b2b2b" stroke-width="3.5"/>
<line x1="283.0" y1="1154" x2="283.0" y2="1176" stroke="#2b2b2b" stroke-width="3.5"/>
<line x1="485.0" y1="142" x2="485.0" y2="164" stroke="#2b2b2b" stroke-width="3.5"/>
<line x1="485.0" y1="1154" x2="485.0" y2="1176" stroke="#2b2b2b" stroke-width="3.5"/>
<line x1="687.0" y1="142" x2="687.0" y2="164" stroke="#2b2b2b" stroke-width="3.5"/>
<line x1="687.0" y1="1154" x2="687.0" y2="1176" stroke="#2b2b2b" stroke-width="3.5"/>
<line x1="889.0" y1="142" x2="889.0" y2="164" stroke="#2b2b2b" stroke-width="3.5"/>
<line x1="889.0" y1="1154" x2="889.0" y2="1176" stroke="#2b2b2b" stroke-width="3.5"/>
<line x1="1091.0" y1="142" x2="1091.0" y2="164" stroke="#2b2b2b" stroke-width="3.5"/>
<line x1="1091.0" y1="1154" x2="1091.0" y2="1176" stroke="#2b2b2b" stroke-width="3.5"/>
<rect x="1421" y="142" width="1025" height="1034" fill="none" stroke="#2b2b2b" stroke-width="4"/>
<line x1="1556.0" y1="142" x2="1556.0" y2="164" stroke="#2b2b2b" stroke-width="3.5"/>
<line x1="1556.0" y1="1154" x2="1556.0" y2="1176" stroke="#2b2b2b" stroke-width="3.5"/>
<line x1="1758.0" y1="142" x2="1758.0" y2="164" stroke="#2b2b2b" stroke-width="3.5"/>
<line x1="1758.0" y1="1154" x2="1758.0" y2="1176" stroke="#2b2b2b" stroke-width="3.5"/>
<line x1="1960.0" y1="142" x2="1960.0" y2="164" stroke="#2b2b2b" stroke-width="3.5"/>
<line x1="1960.0" y1="1154" x2="1960.0" y2="1176" stroke="#2b2b2b" stroke-width="3.5"/>
<line x1="2162.0" y1="142" x2="2162.0" y2="164" stroke="#2b2b2b" stroke-width="3.5"/>
<line x1="2162.0" y1="1154" x2="2162.0" y2="1176" stroke="#2b2b2b" stroke-width="3.5"/>
<line x1="2364.0" y1="142" x2="2364.0" y2="164" stroke="#2b2b2b" stroke-width="3.5"/>
<line x1="2364.0" y1="1154" x2="2364.0" y2="1176" stroke="#2b2b2b" stroke-width="3.5"/>
<text x="259.7" y="1245.0" class="r" font-size="71.0" textLength="41.0" lengthAdjust="spacingAndGlyphs">5</text>
<text x="445.0" y="1245.0" class="r" font-size="71.0" textLength="76.2" lengthAdjust="spacingAndGlyphs">10</text>
<text x="647.4" y="1245.0" class="r" font-size="71.0" textLength="75.6" lengthAdjust="spacingAndGlyphs">15</text>
<text x="851.3" y="1245.0" class="r" font-size="71.0" textLength="74.5" lengthAdjust="spacingAndGlyphs">20</text>
<text x="1054.3" y="1245.0" class="r" font-size="71.0" textLength="75.7" lengthAdjust="spacingAndGlyphs">25</text>
<text x="1532.7" y="1245.0" class="r" font-size="71.0" textLength="41.0" lengthAdjust="spacingAndGlyphs">5</text>
<text x="1718.0" y="1245.0" class="r" font-size="71.0" textLength="76.2" lengthAdjust="spacingAndGlyphs">10</text>
<text x="1920.4" y="1245.0" class="r" font-size="71.0" textLength="75.6" lengthAdjust="spacingAndGlyphs">15</text>
<text x="2124.3" y="1245.0" class="r" font-size="71.0" textLength="74.5" lengthAdjust="spacingAndGlyphs">20</text>
<text x="2327.3" y="1245.0" class="r" font-size="71.0" textLength="75.7" lengthAdjust="spacingAndGlyphs">25</text>
<text class="r"><tspan x="420.9" y="1360.5" font-size="88.0" textLength="47.3" lengthAdjust="spacingAndGlyphs">2</tspan><tspan x="472.4" y="1360.5" font-size="86.0" font-style="italic" textLength="46.0" lengthAdjust="spacingAndGlyphs">&#952;</tspan><tspan x="538.2" y="1360.5" font-size="92.0" font-weight="bold" stroke="#fff" stroke-width="0.9" textLength="23.8" lengthAdjust="spacingAndGlyphs">/</tspan><tspan x="588.1" y="1318.0" font-size="66.0" textLength="31.2" lengthAdjust="spacingAndGlyphs">o</tspan><tspan x="646.5" y="1361.0" font-size="88.0" textLength="26.0" lengthAdjust="spacingAndGlyphs">(</tspan><tspan x="669.4" y="1360.5" font-size="90.0" textLength="174.2" lengthAdjust="spacingAndGlyphs">CuK</tspan><tspan x="849.5" y="1360.5" font-size="88.0" font-style="italic" textLength="51.1" lengthAdjust="spacingAndGlyphs">&#945;</tspan><tspan x="900.8" y="1361.0" font-size="88.0" textLength="26.1" lengthAdjust="spacingAndGlyphs">)</tspan></text>
<text class="r"><tspan x="1693.9" y="1360.5" font-size="88.0" textLength="47.3" lengthAdjust="spacingAndGlyphs">2</tspan><tspan x="1745.4" y="1360.5" font-size="86.0" font-style="italic" textLength="46.0" lengthAdjust="spacingAndGlyphs">&#952;</tspan><tspan x="1811.2" y="1360.5" font-size="92.0" font-weight="bold" stroke="#fff" stroke-width="0.9" textLength="23.8" lengthAdjust="spacingAndGlyphs">/</tspan><tspan x="1861.1" y="1318.0" font-size="66.0" textLength="31.2" lengthAdjust="spacingAndGlyphs">o</tspan><tspan x="1919.5" y="1361.0" font-size="88.0" textLength="26.0" lengthAdjust="spacingAndGlyphs">(</tspan><tspan x="1942.4" y="1360.5" font-size="90.0" textLength="174.2" lengthAdjust="spacingAndGlyphs">CuK</tspan><tspan x="2122.5" y="1360.5" font-size="88.0" font-style="italic" textLength="51.1" lengthAdjust="spacingAndGlyphs">&#945;</tspan><tspan x="2173.8" y="1361.0" font-size="88.0" textLength="26.1" lengthAdjust="spacingAndGlyphs">)</tspan></text>
<text transform="translate(93.0 829.3) rotate(-90)" x="0" y="0" class="r thin" font-size="90.0" textLength="329.5" lengthAdjust="spacingAndGlyphs">Intensity</text>
<text transform="translate(1366.0 829.3) rotate(-90)" x="0" y="0" class="r thin" font-size="90.0" textLength="329.5" lengthAdjust="spacingAndGlyphs">Intensity</text>
<text class="r"><tspan x="601.9" y="101.5" font-size="84.0" font-weight="bold" textLength="29.0" lengthAdjust="spacingAndGlyphs">(</tspan><tspan x="632.4" y="110.8" font-size="96.0" font-weight="bold" stroke="#fff" stroke-width="0.9" textLength="44.6" lengthAdjust="spacingAndGlyphs">a</tspan><tspan x="679.0" y="101.5" font-size="84.0" font-weight="bold" textLength="27.9" lengthAdjust="spacingAndGlyphs">)</tspan></text>
<text class="r"><tspan x="1884.1" y="108.5" font-size="73.0" font-weight="bold" textLength="23.9" lengthAdjust="spacingAndGlyphs">(</tspan><tspan x="1909.4" y="118.3" font-size="86.0" font-weight="bold" stroke="#fff" stroke-width="0.9" textLength="47.8" lengthAdjust="spacingAndGlyphs">b</tspan><tspan x="1958.5" y="108.5" font-size="73.0" font-weight="bold" textLength="24.3" lengthAdjust="spacingAndGlyphs">)</tspan></text>
<text class="r"><tspan x="678.6" y="213.6" font-size="57.0" font-weight="bold" stroke="#fff" stroke-width="0.9" textLength="61.3" lengthAdjust="spacingAndGlyphs">LF</tspan><tspan x="740.9" y="225.3" font-size="35.0" font-weight="bold" textLength="41.3" lengthAdjust="spacingAndGlyphs">aq</tspan></text>
<text x="610.9" y="281.9" class="b bt" font-size="59.0" textLength="234.5" lengthAdjust="spacingAndGlyphs">annealed</text>
<line x1="734.6" y1="293.0" x2="734.6" y2="377.0" stroke="#000" stroke-width="2"/><polygon points="734.6,395.0 726.6,377.0 742.6,377.0" fill="#000"/>
<text class="r"><tspan x="218.0" y="577.5" font-size="57.0" font-weight="bold" stroke="#fff" stroke-width="0.9" textLength="63.3" lengthAdjust="spacingAndGlyphs">LF</tspan><tspan x="282.3" y="588.7" font-size="35.0" font-weight="bold" textLength="41.2" lengthAdjust="spacingAndGlyphs">aq</tspan></text>
<text x="185.3" y="645.5" class="b bt" font-size="59.0" textLength="168.5" lengthAdjust="spacingAndGlyphs">as-cast</text>
<line x1="354.0" y1="594.0" x2="461.5" y2="594.0" stroke="#000" stroke-width="2"/><polygon points="479.5,594.0 461.5,602.0 461.5,586.0" fill="#000"/>
<text x="872.7" y="881.7" class="b bt" font-size="57.0" textLength="172.3" lengthAdjust="spacingAndGlyphs">Native</text>
<text x="904.3" y="950.2" class="b bt" font-size="57.0" textLength="125.0" lengthAdjust="spacingAndGlyphs">fiber</text>
<line x1="959.4" y1="834.0" x2="978.6" y2="691.8" stroke="#000" stroke-width="2"/><polygon points="981.0,674.0 986.5,692.9 970.7,690.8" fill="#000"/>
<text class="r"><tspan x="481.1" y="1120.3" font-size="68.0" textLength="116.3" lengthAdjust="spacingAndGlyphs">11.6</tspan><tspan x="594.9" y="1105.5" font-size="68.0" textLength="30.7" lengthAdjust="spacingAndGlyphs">&#176;</tspan></text>
<text class="r"><tspan x="1867.1" y="205.2" font-size="57.0" font-weight="bold" stroke="#fff" stroke-width="0.9" textLength="113.8" lengthAdjust="spacingAndGlyphs">SGF</tspan><tspan x="1981.2" y="217.7" font-size="39.0" font-weight="bold" textLength="91.3" lengthAdjust="spacingAndGlyphs">HFIP</tspan></text>
<text x="1884.9" y="274.5" class="b bt" font-size="59.0" textLength="168.7" lengthAdjust="spacingAndGlyphs">as-cast</text>
<line x1="2008.8" y1="282.5" x2="2081.9" y2="337.3" stroke="#000" stroke-width="2"/><polygon points="2096.3,348.1 2077.1,343.7 2086.7,330.9" fill="#000"/>
<text class="r"><tspan x="1527.1" y="421.8" font-size="55.0" font-weight="bold" stroke="#fff" stroke-width="0.9" textLength="114.5" lengthAdjust="spacingAndGlyphs">SGF</tspan><tspan x="1640.7" y="435.9" font-size="39.0" font-weight="bold" textLength="91.3" lengthAdjust="spacingAndGlyphs">HFIP</tspan></text>
<text x="1511.6" y="490.9" class="b bt" font-size="59.0" textLength="232.8" lengthAdjust="spacingAndGlyphs">annealed</text>
<line x1="1600.5" y1="512.6" x2="1493.8" y2="680.2" stroke="#000" stroke-width="2"/><polygon points="1484.1,695.4 1487.0,675.9 1500.5,684.5" fill="#000"/>
<text x="2143.5" y="759.9" class="b bt" font-size="57.0" textLength="171.7" lengthAdjust="spacingAndGlyphs">Native</text>
<text x="2168.5" y="830.2" class="b bt" font-size="57.0" textLength="124.6" lengthAdjust="spacingAndGlyphs">fiber</text>
<line x1="2229.1" y1="713.9" x2="2251.9" y2="571.9" stroke="#000" stroke-width="2"/><polygon points="2254.7,554.1 2259.8,573.1 2244.0,570.6" fill="#000"/>
<text class="r"><tspan x="1811.9" y="1019.6" font-size="68.0" textLength="116.6" lengthAdjust="spacingAndGlyphs">12.8</tspan><tspan x="1924.8" y="1005.5" font-size="68.0" textLength="31.5" lengthAdjust="spacingAndGlyphs">&#176;</tspan></text>
</svg></body></html>
